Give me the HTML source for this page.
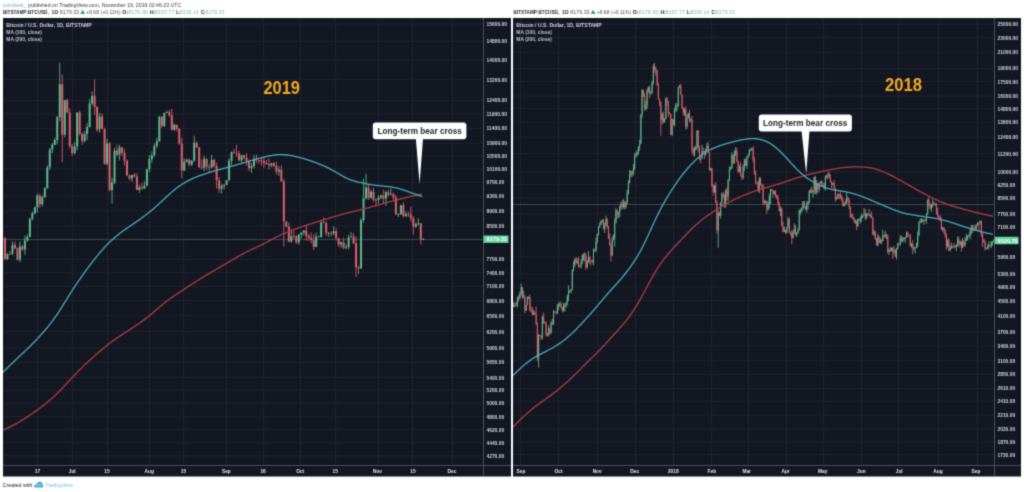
<!DOCTYPE html>
<html><head><meta charset="utf-8"><style>
html,body{margin:0;padding:0;background:#fff;width:1024px;height:492px;overflow:hidden;position:relative;font-family:"Liberation Sans",sans-serif}
</style></head><body>
<svg width="1024" height="492" viewBox="0 0 1024 492" style="display:block">
<defs><filter id="bl" x="0" y="0" width="1024" height="492" filterUnits="userSpaceOnUse"><feConvolveMatrix color-interpolation-filters="sRGB" order="3" kernelMatrix="1 4 1 4 16 4 1 4 1" divisor="36" edgeMode="duplicate"/></filter></defs>
<g filter="url(#bl)"><rect x="0" y="0" width="1024" height="492" fill="#fff"/>
<rect x="3" y="18" width="508" height="458.5" fill="#131722"/>
<clipPath id="c3"><rect x="3" y="18" width="480" height="447"/></clipPath>
<path d="M3 23.82H483M3 41.37H483M3 59.90H483M3 79.52H483M3 100.36H483M3 114.08H483M3 128.39H483M3 143.35H483M3 155.81H483M3 168.76H483M3 182.23H483M3 196.27H483M3 210.93H483M3 226.26H483M3 259.22H483M3 272.47H483M3 286.26H483M3 300.66H483M3 315.70H483M3 331.46H483M3 347.99H483M3 362.43H483M3 377.51H483M3 390.10H483M3 403.17H483M3 416.78H483M3 429.53H483M3 442.78H483M3 455.79H483M37.5 18V465M72.5 18V465M107.5 18V465M149.5 18V465M183.5 18V465M226.5 18V465M263.5 18V465M300.5 18V465M335.5 18V465M378.5 18V465M412.5 18V465M452.5 18V465" stroke="#1f2330" stroke-width="1" fill="none"/>
<path d="M3 239.5H483" stroke="#3b4852" stroke-width="1" fill="none"/>
<g clip-path="url(#c3)">
<path d="M7.46 253.21V259.86M12.44 241.37V255.25M19.91 241.51V262.31M24.89 235.45V254.80M27.38 234.37V241.89M29.87 217.86V237.16M32.36 211.70V220.71M34.85 206.50V214.45M37.34 193.58V212.62M42.32 195.39V206.41M44.81 187.20V197.56M47.30 165.42V188.98M49.79 148.15V170.20M52.28 143.17V153.17M54.77 137.55V145.46M57.26 115.90V144.47M59.75 62.77V121.16M64.73 99.85V137.29M74.69 142.09V154.28M77.18 112.02V150.31M84.65 131.17V142.57M87.14 123.09V140.21M89.63 99.12V127.65M92.12 91.44V105.21M99.59 113.13V132.57M107.06 138.75V165.51M112.04 177.80V203.52M114.53 147.73V184.07M119.51 144.92V160.34M131.96 174.70V181.90M139.43 184.73V192.84M144.41 181.33V188.92M146.90 168.81V186.34M149.39 154.81V172.35M151.88 151.45V162.83M154.37 143.42V157.11M156.86 137.84V148.36M159.35 115.72V141.64M164.33 112.41V126.95M166.82 110.52V112.94M174.29 123.53V130.86M184.25 158.51V171.11M186.74 158.64V162.58M191.72 159.92V166.03M194.21 135.64V161.84M204.17 155.77V171.26M211.64 154.90V168.57M221.60 183.71V193.34M224.09 184.12V189.36M226.58 179.83V185.22M229.07 158.35V180.70M231.56 151.66V165.37M241.52 154.88V162.63M251.48 163.13V172.71M253.97 154.90V168.44M271.40 163.04V167.32M278.87 166.36V175.94M291.32 229.35V242.76M298.79 234.45V244.68M301.28 232.24V238.49M303.77 230.30V235.61M316.22 232.74V247.01M321.20 220.79V237.81M328.67 232.16V237.16M333.65 226.34V235.16M341.12 241.71V248.08M346.10 244.22V249.30M348.59 234.65V249.30M351.08 231.93V237.70M361.04 217.88V269.13M363.53 178.81V222.68M366.02 173.75V199.67M371.00 189.76V198.84M378.47 194.99V203.87M380.96 194.52V199.09M385.94 190.88V205.96M390.92 188.52V195.13M398.39 213.33V217.03M400.88 205.07V214.79M405.86 211.47V216.64M415.82 222.45V228.06M418.31 218.24V225.59M423.29 238.33V240.03" stroke="#5fb88c" stroke-width="1" fill="none" opacity="0.85"/>
<path d="M4.97 237.15V260.45M9.95 251.11V254.62M14.93 241.59V249.14M17.42 247.21V260.29M22.40 244.96V251.03M39.83 193.89V207.79M62.24 74.50V162.22M67.22 98.68V112.62M69.71 108.07V148.39M72.20 143.89V156.04M79.67 110.54V135.69M82.16 132.49V144.79M94.61 79.52V114.63M97.10 105.92V131.84M102.08 113.18V129.10M104.57 127.89V164.96M109.55 141.95V191.64M117.02 144.71V156.77M122.00 146.89V155.76M124.49 148.77V165.70M126.98 159.18V175.88M129.47 174.46V180.40M134.45 173.08V177.65M136.94 173.30V190.07M141.92 182.99V189.85M161.84 116.30V127.85M169.31 109.95V116.85M171.80 109.17V130.72M176.78 124.78V131.70M179.27 127.91V144.66M181.76 138.03V178.17M189.23 158.55V166.44M196.70 141.20V147.86M199.19 146.89V167.70M201.68 159.42V169.20M206.66 158.58V169.69M209.15 164.26V172.01M214.13 158.94V167.84M216.62 162.71V188.50M219.11 177.10V193.20M234.05 148.80V153.72M236.54 144.70V156.90M239.03 150.71V161.31M244.01 154.61V159.61M246.50 153.14V165.69M248.99 159.28V171.17M256.46 154.29V163.11M258.95 160.28V163.79M261.44 158.06V165.51M263.93 158.04V167.72M266.42 160.05V164.67M268.91 158.27V169.76M273.89 162.13V167.33M276.38 161.63V174.52M281.36 165.42V181.78M283.85 179.01V246.47M286.34 221.24V227.18M288.83 222.57V242.38M293.81 230.66V238.88M296.30 235.47V244.01M306.26 226.04V240.68M308.75 233.80V240.69M311.24 232.46V243.51M313.73 234.40V250.20M318.71 235.84V237.19M323.69 217.22V223.04M326.18 221.32V236.37M331.16 231.10V236.60M336.14 228.23V240.43M338.63 238.02V246.95M343.61 237.55V249.52M353.57 232.98V244.33M356.06 236.23V277.00M358.55 265.45V274.18M368.51 185.06V200.11M373.49 187.77V201.68M375.98 198.35V206.23M383.45 189.64V203.93M388.43 189.51V196.85M393.41 192.45V200.18M395.90 194.75V214.81M403.37 202.14V217.41M408.35 211.58V216.93M410.84 206.49V221.64M413.33 216.29V234.49M420.80 223.05V244.40" stroke="#d9606b" stroke-width="1" fill="none" opacity="0.85"/>
<path d="M6.46 253.89h2.0V258.91h-2.0zM11.44 244.69h2.0V253.98h-2.0zM18.91 246.47h2.0V259.74h-2.0zM23.89 240.49h2.0V249.53h-2.0zM26.38 237.02h2.0V240.49h-2.0zM28.87 218.78h2.0V237.02h-2.0zM31.36 213.26h2.0V218.78h-2.0zM33.85 207.43h2.0V213.26h-2.0zM36.34 195.56h2.0V207.43h-2.0zM41.32 197.24h2.0V204.18h-2.0zM43.81 188.23h2.0V197.24h-2.0zM46.30 167.31h2.0V188.23h-2.0zM48.79 149.49h2.0V167.31h-2.0zM51.28 144.73h2.0V149.49h-2.0zM53.77 139.97h2.0V144.73h-2.0zM56.26 117.18h2.0V139.97h-2.0zM58.75 84.20h2.0V117.18h-2.0zM63.73 100.17h2.0V134.83h-2.0zM73.69 146.39h2.0V153.19h-2.0zM76.18 112.38h2.0V146.39h-2.0zM83.65 134.06h2.0V140.97h-2.0zM86.14 126.93h2.0V134.06h-2.0zM88.63 103.47h2.0V126.93h-2.0zM91.12 95.74h2.0V103.47h-2.0zM98.59 116.47h2.0V129.62h-2.0zM106.06 143.50h2.0V163.65h-2.0zM111.04 182.47h2.0V189.99h-2.0zM113.53 150.58h2.0V182.47h-2.0zM118.51 147.44h2.0V154.86h-2.0zM130.96 175.06h2.0V178.44h-2.0zM138.43 187.36h2.0V189.99h-2.0zM143.41 185.45h2.0V188.51h-2.0zM145.90 169.26h2.0V185.45h-2.0zM148.39 159.00h2.0V169.26h-2.0zM150.88 155.21h2.0V159.00h-2.0zM153.37 145.77h2.0V155.21h-2.0zM155.86 141.21h2.0V145.77h-2.0zM158.35 116.75h2.0V141.21h-2.0zM163.33 112.94h2.0V126.12h-2.0zM165.82 112.24h2.0V113.04h-2.0zM173.29 124.82h2.0V129.74h-2.0zM183.25 161.87h2.0V170.38h-2.0zM185.74 159.84h2.0V161.87h-2.0zM190.72 160.77h2.0V164.46h-2.0zM193.21 142.86h2.0V160.77h-2.0zM203.17 158.78h2.0V167.74h-2.0zM210.64 159.97h2.0V167.51h-2.0zM220.60 185.76h2.0V188.83h-2.0zM223.09 184.65h2.0V185.76h-2.0zM225.58 180.28h2.0V184.65h-2.0zM228.07 160.74h2.0V180.28h-2.0zM230.56 151.93h2.0V160.74h-2.0zM240.52 155.27h2.0V160.51h-2.0zM250.48 166.20h2.0V168.27h-2.0zM252.97 158.68h2.0V166.20h-2.0zM270.40 163.33h2.0V165.51h-2.0zM277.87 169.75h2.0V171.45h-2.0zM290.32 236.17h2.0V241.59h-2.0zM297.79 234.48h2.0V242.17h-2.0zM300.28 232.48h2.0V234.48h-2.0zM302.77 230.49h2.0V232.48h-2.0zM315.22 236.42h2.0V246.97h-2.0zM320.20 222.56h2.0V237.11h-2.0zM327.67 232.76h2.0V233.56h-2.0zM332.65 231.24h2.0V233.36h-2.0zM340.12 242.21h2.0V244.52h-2.0zM345.10 246.97h2.0V247.77h-2.0zM347.59 237.35h2.0V246.97h-2.0zM350.08 236.50h2.0V237.35h-2.0zM360.04 220.04h2.0V268.30h-2.0zM362.53 198.29h2.0V220.04h-2.0zM365.02 187.39h2.0V198.29h-2.0zM370.00 191.75h2.0V197.85h-2.0zM377.47 197.67h2.0V199.91h-2.0zM379.96 195.41h2.0V197.67h-2.0zM384.94 192.28h2.0V198.61h-2.0zM389.92 194.13h2.0V194.93h-2.0zM397.39 214.21h2.0V215.01h-2.0zM399.88 205.17h2.0V214.21h-2.0zM404.86 214.13h2.0V216.33h-2.0zM414.82 224.31h2.0V226.62h-2.0zM417.31 223.26h2.0V224.31h-2.0zM422.29 239.10h2.0V239.90h-2.0z" fill="#5fb88c"/>
<path d="M3.97 237.92h2.0V258.91h-2.0zM8.95 253.89h2.0V254.69h-2.0zM13.93 244.69h2.0V248.40h-2.0zM16.42 248.40h2.0V259.74h-2.0zM21.40 246.47h2.0V249.53h-2.0zM38.83 195.56h2.0V204.18h-2.0zM61.24 84.20h2.0V134.83h-2.0zM66.22 100.17h2.0V112.43h-2.0zM68.71 112.43h2.0V145.90h-2.0zM71.20 145.90h2.0V153.19h-2.0zM78.67 112.38h2.0V133.85h-2.0zM81.16 133.85h2.0V140.97h-2.0zM93.61 95.74h2.0V106.99h-2.0zM96.10 106.99h2.0V129.62h-2.0zM101.08 116.47h2.0V128.63h-2.0zM103.57 128.63h2.0V163.65h-2.0zM108.55 143.50h2.0V189.99h-2.0zM116.02 150.58h2.0V154.86h-2.0zM121.00 147.44h2.0V152.68h-2.0zM123.49 152.68h2.0V160.83h-2.0zM125.98 160.83h2.0V175.43h-2.0zM128.47 175.43h2.0V178.44h-2.0zM133.45 175.06h2.0V176.41h-2.0zM135.94 176.41h2.0V189.99h-2.0zM140.92 187.36h2.0V188.51h-2.0zM160.84 116.75h2.0V126.12h-2.0zM168.31 112.24h2.0V115.15h-2.0zM170.80 115.15h2.0V129.74h-2.0zM175.78 124.82h2.0V128.92h-2.0zM178.27 128.92h2.0V143.50h-2.0zM180.76 143.50h2.0V170.38h-2.0zM188.23 159.84h2.0V164.46h-2.0zM195.70 142.86h2.0V147.56h-2.0zM198.19 147.56h2.0V167.51h-2.0zM200.68 167.51h2.0V168.31h-2.0zM205.66 158.78h2.0V166.82h-2.0zM208.15 166.82h2.0V167.62h-2.0zM213.13 159.97h2.0V165.97h-2.0zM215.62 165.97h2.0V180.35h-2.0zM218.11 180.35h2.0V188.83h-2.0zM233.05 151.93h2.0V152.84h-2.0zM235.54 152.84h2.0V153.64h-2.0zM238.03 153.44h2.0V160.51h-2.0zM243.01 155.27h2.0V157.69h-2.0zM245.50 157.69h2.0V161.12h-2.0zM247.99 161.12h2.0V168.27h-2.0zM255.46 158.68h2.0V160.29h-2.0zM257.95 160.29h2.0V161.09h-2.0zM260.44 160.35h2.0V161.15h-2.0zM262.93 160.71h2.0V163.00h-2.0zM265.42 163.00h2.0V164.14h-2.0zM267.91 164.14h2.0V165.51h-2.0zM272.89 163.33h2.0V166.10h-2.0zM275.38 166.10h2.0V171.45h-2.0zM280.36 169.75h2.0V181.24h-2.0zM282.85 181.24h2.0V221.59h-2.0zM285.34 221.59h2.0V226.81h-2.0zM287.83 226.81h2.0V241.59h-2.0zM292.81 236.17h2.0V236.97h-2.0zM295.30 236.42h2.0V242.17h-2.0zM305.26 230.49h2.0V235.81h-2.0zM307.75 235.81h2.0V238.04h-2.0zM310.24 238.04h2.0V240.24h-2.0zM312.73 240.24h2.0V246.97h-2.0zM317.71 236.42h2.0V237.22h-2.0zM322.69 222.56h2.0V223.36h-2.0zM325.18 222.91h2.0V233.36h-2.0zM330.16 232.76h2.0V233.56h-2.0zM335.14 231.24h2.0V238.04h-2.0zM337.63 238.04h2.0V244.52h-2.0zM342.61 242.21h2.0V247.60h-2.0zM352.57 236.50h2.0V243.24h-2.0zM355.06 243.24h2.0V267.37h-2.0zM357.55 267.37h2.0V268.30h-2.0zM367.51 187.39h2.0V197.85h-2.0zM372.49 191.75h2.0V199.70h-2.0zM374.98 199.70h2.0V200.50h-2.0zM382.45 195.41h2.0V198.61h-2.0zM387.43 192.28h2.0V194.77h-2.0zM392.41 194.13h2.0V197.46h-2.0zM394.90 197.46h2.0V214.55h-2.0zM402.37 205.17h2.0V216.33h-2.0zM407.35 214.13h2.0V214.93h-2.0zM409.84 214.39h2.0V218.20h-2.0zM412.33 218.20h2.0V226.62h-2.0zM419.80 223.26h2.0V239.18h-2.0z" fill="#d9606b"/>
<path d="M3.0 430.19 L4.0 429.73 L5.0 429.27 L6.0 428.80 L7.0 428.34 L8.0 427.86 L9.0 427.39 L10.0 426.90 L11.0 426.41 L12.0 425.91 L13.0 425.40 L14.0 424.88 L15.0 424.35 L16.0 423.81 L17.0 423.26 L18.0 422.69 L19.0 422.11 L20.0 421.51 L21.0 420.91 L22.0 420.30 L23.0 419.67 L24.0 419.03 L25.0 418.39 L26.0 417.74 L27.0 417.08 L28.0 416.41 L29.0 415.74 L30.0 415.07 L31.0 414.38 L32.0 413.70 L33.0 413.00 L34.0 412.31 L35.0 411.61 L36.0 410.90 L37.0 410.19 L38.0 409.47 L39.0 408.74 L40.0 408.01 L41.0 407.27 L42.0 406.52 L43.0 405.76 L44.0 404.98 L45.0 404.20 L46.0 403.40 L47.0 402.59 L48.0 401.76 L49.0 400.92 L50.0 400.06 L51.0 399.18 L52.0 398.28 L53.0 397.37 L54.0 396.44 L55.0 395.49 L56.0 394.53 L57.0 393.55 L58.0 392.56 L59.0 391.56 L60.0 390.54 L61.0 389.52 L62.0 388.48 L63.0 387.43 L64.0 386.38 L65.0 385.32 L66.0 384.26 L67.0 383.19 L68.0 382.12 L69.0 381.05 L70.0 379.98 L71.0 378.91 L72.0 377.85 L73.0 376.79 L74.0 375.74 L75.0 374.69 L76.0 373.65 L77.0 372.62 L78.0 371.60 L79.0 370.58 L80.0 369.58 L81.0 368.58 L82.0 367.59 L83.0 366.61 L84.0 365.64 L85.0 364.68 L86.0 363.72 L87.0 362.78 L88.0 361.84 L89.0 360.91 L90.0 359.99 L91.0 359.07 L92.0 358.16 L93.0 357.26 L94.0 356.36 L95.0 355.48 L96.0 354.60 L97.0 353.72 L98.0 352.86 L99.0 352.00 L100.0 351.15 L101.0 350.30 L102.0 349.47 L103.0 348.64 L104.0 347.82 L105.0 347.01 L106.0 346.21 L107.0 345.41 L108.0 344.63 L109.0 343.86 L110.0 343.09 L111.0 342.34 L112.0 341.59 L113.0 340.86 L114.0 340.14 L115.0 339.43 L116.0 338.73 L117.0 338.04 L118.0 337.35 L119.0 336.68 L120.0 336.01 L121.0 335.35 L122.0 334.69 L123.0 334.04 L124.0 333.39 L125.0 332.74 L126.0 332.09 L127.0 331.44 L128.0 330.80 L129.0 330.15 L130.0 329.50 L131.0 328.85 L132.0 328.19 L133.0 327.53 L134.0 326.87 L135.0 326.20 L136.0 325.53 L137.0 324.86 L138.0 324.17 L139.0 323.48 L140.0 322.79 L141.0 322.08 L142.0 321.36 L143.0 320.63 L144.0 319.89 L145.0 319.14 L146.0 318.37 L147.0 317.58 L148.0 316.79 L149.0 315.98 L150.0 315.16 L151.0 314.32 L152.0 313.48 L153.0 312.63 L154.0 311.77 L155.0 310.91 L156.0 310.05 L157.0 309.18 L158.0 308.33 L159.0 307.47 L160.0 306.62 L161.0 305.79 L162.0 304.96 L163.0 304.15 L164.0 303.34 L165.0 302.55 L166.0 301.78 L167.0 301.02 L168.0 300.27 L169.0 299.53 L170.0 298.81 L171.0 298.09 L172.0 297.38 L173.0 296.69 L174.0 295.99 L175.0 295.31 L176.0 294.63 L177.0 293.95 L178.0 293.27 L179.0 292.60 L180.0 291.93 L181.0 291.26 L182.0 290.60 L183.0 289.93 L184.0 289.27 L185.0 288.61 L186.0 287.95 L187.0 287.29 L188.0 286.63 L189.0 285.97 L190.0 285.32 L191.0 284.67 L192.0 284.02 L193.0 283.37 L194.0 282.73 L195.0 282.09 L196.0 281.46 L197.0 280.82 L198.0 280.20 L199.0 279.58 L200.0 278.96 L201.0 278.34 L202.0 277.74 L203.0 277.13 L204.0 276.53 L205.0 275.93 L206.0 275.33 L207.0 274.74 L208.0 274.14 L209.0 273.55 L210.0 272.96 L211.0 272.38 L212.0 271.79 L213.0 271.20 L214.0 270.61 L215.0 270.03 L216.0 269.44 L217.0 268.85 L218.0 268.27 L219.0 267.68 L220.0 267.09 L221.0 266.50 L222.0 265.92 L223.0 265.33 L224.0 264.74 L225.0 264.16 L226.0 263.57 L227.0 262.98 L228.0 262.40 L229.0 261.81 L230.0 261.23 L231.0 260.64 L232.0 260.06 L233.0 259.48 L234.0 258.90 L235.0 258.32 L236.0 257.74 L237.0 257.17 L238.0 256.60 L239.0 256.03 L240.0 255.47 L241.0 254.91 L242.0 254.36 L243.0 253.81 L244.0 253.27 L245.0 252.74 L246.0 252.23 L247.0 251.72 L248.0 251.22 L249.0 250.73 L250.0 250.24 L251.0 249.77 L252.0 249.30 L253.0 248.84 L254.0 248.38 L255.0 247.93 L256.0 247.47 L257.0 247.01 L258.0 246.54 L259.0 246.07 L260.0 245.59 L261.0 245.10 L262.0 244.60 L263.0 244.09 L264.0 243.58 L265.0 243.05 L266.0 242.52 L267.0 241.99 L268.0 241.45 L269.0 240.91 L270.0 240.37 L271.0 239.83 L272.0 239.29 L273.0 238.77 L274.0 238.24 L275.0 237.73 L276.0 237.23 L277.0 236.74 L278.0 236.25 L279.0 235.78 L280.0 235.32 L281.0 234.87 L282.0 234.43 L283.0 233.99 L284.0 233.57 L285.0 233.15 L286.0 232.74 L287.0 232.34 L288.0 231.94 L289.0 231.54 L290.0 231.16 L291.0 230.77 L292.0 230.39 L293.0 230.01 L294.0 229.64 L295.0 229.27 L296.0 228.90 L297.0 228.54 L298.0 228.18 L299.0 227.82 L300.0 227.46 L301.0 227.11 L302.0 226.76 L303.0 226.42 L304.0 226.07 L305.0 225.73 L306.0 225.39 L307.0 225.06 L308.0 224.73 L309.0 224.40 L310.0 224.07 L311.0 223.75 L312.0 223.42 L313.0 223.11 L314.0 222.79 L315.0 222.48 L316.0 222.17 L317.0 221.86 L318.0 221.55 L319.0 221.24 L320.0 220.94 L321.0 220.63 L322.0 220.33 L323.0 220.03 L324.0 219.73 L325.0 219.42 L326.0 219.12 L327.0 218.82 L328.0 218.52 L329.0 218.22 L330.0 217.92 L331.0 217.62 L332.0 217.32 L333.0 217.02 L334.0 216.73 L335.0 216.43 L336.0 216.14 L337.0 215.85 L338.0 215.56 L339.0 215.27 L340.0 214.99 L341.0 214.70 L342.0 214.43 L343.0 214.15 L344.0 213.88 L345.0 213.61 L346.0 213.34 L347.0 213.08 L348.0 212.82 L349.0 212.56 L350.0 212.30 L351.0 212.04 L352.0 211.79 L353.0 211.54 L354.0 211.29 L355.0 211.04 L356.0 210.79 L357.0 210.53 L358.0 210.28 L359.0 210.03 L360.0 209.78 L361.0 209.53 L362.0 209.28 L363.0 209.03 L364.0 208.78 L365.0 208.52 L366.0 208.27 L367.0 208.01 L368.0 207.76 L369.0 207.50 L370.0 207.24 L371.0 206.98 L372.0 206.71 L373.0 206.45 L374.0 206.18 L375.0 205.91 L376.0 205.64 L377.0 205.36 L378.0 205.09 L379.0 204.81 L380.0 204.53 L381.0 204.25 L382.0 203.96 L383.0 203.68 L384.0 203.39 L385.0 203.11 L386.0 202.82 L387.0 202.54 L388.0 202.25 L389.0 201.97 L390.0 201.69 L391.0 201.41 L392.0 201.14 L393.0 200.86 L394.0 200.59 L395.0 200.32 L396.0 200.06 L397.0 199.79 L398.0 199.53 L399.0 199.27 L400.0 199.02 L401.0 198.76 L402.0 198.51 L403.0 198.26 L404.0 198.02 L405.0 197.78 L406.0 197.54 L407.0 197.30 L408.0 197.07 L409.0 196.84 L410.0 196.62 L411.0 196.39 L412.0 196.18 L413.0 195.96 L414.0 195.75 L415.0 195.53 L416.0 195.33 L417.0 195.12 L418.0 194.91 L419.0 194.71 L420.0 194.51 L421.0 194.31 L422.0 194.10" stroke="#b23a45" stroke-width="1.3" fill="none"/>
<path d="M3.0 372.20 L4.0 371.22 L5.0 370.24 L6.0 369.26 L7.0 368.28 L8.0 367.30 L9.0 366.32 L10.0 365.35 L11.0 364.37 L12.0 363.41 L13.0 362.44 L14.0 361.48 L15.0 360.52 L16.0 359.57 L17.0 358.62 L18.0 357.68 L19.0 356.73 L20.0 355.79 L21.0 354.85 L22.0 353.92 L23.0 352.98 L24.0 352.04 L25.0 351.10 L26.0 350.15 L27.0 349.20 L28.0 348.24 L29.0 347.28 L30.0 346.30 L31.0 345.31 L32.0 344.32 L33.0 343.31 L34.0 342.29 L35.0 341.26 L36.0 340.21 L37.0 339.16 L38.0 338.09 L39.0 337.00 L40.0 335.91 L41.0 334.80 L42.0 333.67 L43.0 332.54 L44.0 331.39 L45.0 330.22 L46.0 329.04 L47.0 327.84 L48.0 326.62 L49.0 325.38 L50.0 324.12 L51.0 322.83 L52.0 321.52 L53.0 320.18 L54.0 318.81 L55.0 317.41 L56.0 315.98 L57.0 314.52 L58.0 313.03 L59.0 311.51 L60.0 309.97 L61.0 308.40 L62.0 306.81 L63.0 305.21 L64.0 303.59 L65.0 301.97 L66.0 300.35 L67.0 298.72 L68.0 297.11 L69.0 295.50 L70.0 293.91 L71.0 292.33 L72.0 290.77 L73.0 289.22 L74.0 287.69 L75.0 286.18 L76.0 284.69 L77.0 283.21 L78.0 281.75 L79.0 280.30 L80.0 278.87 L81.0 277.44 L82.0 276.03 L83.0 274.62 L84.0 273.23 L85.0 271.84 L86.0 270.46 L87.0 269.09 L88.0 267.73 L89.0 266.37 L90.0 265.03 L91.0 263.71 L92.0 262.39 L93.0 261.09 L94.0 259.81 L95.0 258.54 L96.0 257.29 L97.0 256.06 L98.0 254.85 L99.0 253.65 L100.0 252.48 L101.0 251.33 L102.0 250.19 L103.0 249.08 L104.0 247.98 L105.0 246.90 L106.0 245.85 L107.0 244.81 L108.0 243.80 L109.0 242.81 L110.0 241.83 L111.0 240.88 L112.0 239.96 L113.0 239.05 L114.0 238.17 L115.0 237.31 L116.0 236.47 L117.0 235.65 L118.0 234.84 L119.0 234.05 L120.0 233.28 L121.0 232.53 L122.0 231.78 L123.0 231.05 L124.0 230.32 L125.0 229.61 L126.0 228.90 L127.0 228.20 L128.0 227.50 L129.0 226.81 L130.0 226.12 L131.0 225.44 L132.0 224.75 L133.0 224.07 L134.0 223.38 L135.0 222.70 L136.0 222.01 L137.0 221.32 L138.0 220.62 L139.0 219.92 L140.0 219.22 L141.0 218.51 L142.0 217.79 L143.0 217.06 L144.0 216.32 L145.0 215.57 L146.0 214.81 L147.0 214.04 L148.0 213.26 L149.0 212.46 L150.0 211.65 L151.0 210.82 L152.0 209.98 L153.0 209.13 L154.0 208.27 L155.0 207.39 L156.0 206.51 L157.0 205.61 L158.0 204.70 L159.0 203.79 L160.0 202.87 L161.0 201.94 L162.0 201.01 L163.0 200.07 L164.0 199.13 L165.0 198.20 L166.0 197.27 L167.0 196.34 L168.0 195.42 L169.0 194.51 L170.0 193.62 L171.0 192.74 L172.0 191.87 L173.0 191.02 L174.0 190.20 L175.0 189.39 L176.0 188.60 L177.0 187.83 L178.0 187.09 L179.0 186.37 L180.0 185.67 L181.0 184.99 L182.0 184.33 L183.0 183.69 L184.0 183.08 L185.0 182.48 L186.0 181.91 L187.0 181.35 L188.0 180.82 L189.0 180.30 L190.0 179.80 L191.0 179.31 L192.0 178.84 L193.0 178.39 L194.0 177.95 L195.0 177.52 L196.0 177.11 L197.0 176.71 L198.0 176.32 L199.0 175.94 L200.0 175.57 L201.0 175.21 L202.0 174.85 L203.0 174.51 L204.0 174.17 L205.0 173.84 L206.0 173.52 L207.0 173.20 L208.0 172.89 L209.0 172.59 L210.0 172.28 L211.0 171.99 L212.0 171.69 L213.0 171.40 L214.0 171.11 L215.0 170.83 L216.0 170.55 L217.0 170.26 L218.0 169.99 L219.0 169.71 L220.0 169.43 L221.0 169.16 L222.0 168.88 L223.0 168.60 L224.0 168.33 L225.0 168.06 L226.0 167.78 L227.0 167.51 L228.0 167.23 L229.0 166.95 L230.0 166.68 L231.0 166.40 L232.0 166.13 L233.0 165.85 L234.0 165.57 L235.0 165.29 L236.0 165.01 L237.0 164.73 L238.0 164.45 L239.0 164.17 L240.0 163.89 L241.0 163.60 L242.0 163.32 L243.0 163.03 L244.0 162.74 L245.0 162.45 L246.0 162.16 L247.0 161.86 L248.0 161.56 L249.0 161.27 L250.0 160.97 L251.0 160.67 L252.0 160.36 L253.0 160.06 L254.0 159.76 L255.0 159.47 L256.0 159.17 L257.0 158.88 L258.0 158.60 L259.0 158.32 L260.0 158.05 L261.0 157.78 L262.0 157.52 L263.0 157.27 L264.0 157.03 L265.0 156.79 L266.0 156.57 L267.0 156.35 L268.0 156.15 L269.0 155.95 L270.0 155.76 L271.0 155.59 L272.0 155.43 L273.0 155.27 L274.0 155.14 L275.0 155.02 L276.0 154.91 L277.0 154.82 L278.0 154.76 L279.0 154.71 L280.0 154.68 L281.0 154.67 L282.0 154.68 L283.0 154.70 L284.0 154.75 L285.0 154.82 L286.0 154.90 L287.0 155.00 L288.0 155.12 L289.0 155.25 L290.0 155.40 L291.0 155.56 L292.0 155.73 L293.0 155.92 L294.0 156.12 L295.0 156.34 L296.0 156.56 L297.0 156.80 L298.0 157.05 L299.0 157.31 L300.0 157.57 L301.0 157.85 L302.0 158.13 L303.0 158.42 L304.0 158.71 L305.0 159.02 L306.0 159.32 L307.0 159.64 L308.0 159.96 L309.0 160.29 L310.0 160.62 L311.0 160.96 L312.0 161.30 L313.0 161.66 L314.0 162.02 L315.0 162.38 L316.0 162.75 L317.0 163.13 L318.0 163.52 L319.0 163.91 L320.0 164.31 L321.0 164.71 L322.0 165.13 L323.0 165.56 L324.0 165.99 L325.0 166.44 L326.0 166.90 L327.0 167.37 L328.0 167.85 L329.0 168.35 L330.0 168.87 L331.0 169.40 L332.0 169.94 L333.0 170.49 L334.0 171.06 L335.0 171.64 L336.0 172.22 L337.0 172.81 L338.0 173.40 L339.0 173.99 L340.0 174.58 L341.0 175.16 L342.0 175.73 L343.0 176.28 L344.0 176.82 L345.0 177.34 L346.0 177.84 L347.0 178.31 L348.0 178.76 L349.0 179.19 L350.0 179.58 L351.0 179.96 L352.0 180.31 L353.0 180.64 L354.0 180.95 L355.0 181.24 L356.0 181.51 L357.0 181.77 L358.0 182.02 L359.0 182.26 L360.0 182.48 L361.0 182.70 L362.0 182.92 L363.0 183.13 L364.0 183.33 L365.0 183.53 L366.0 183.73 L367.0 183.92 L368.0 184.10 L369.0 184.28 L370.0 184.46 L371.0 184.63 L372.0 184.79 L373.0 184.94 L374.0 185.09 L375.0 185.23 L376.0 185.36 L377.0 185.48 L378.0 185.60 L379.0 185.71 L380.0 185.81 L381.0 185.91 L382.0 186.00 L383.0 186.10 L384.0 186.19 L385.0 186.28 L386.0 186.38 L387.0 186.49 L388.0 186.60 L389.0 186.72 L390.0 186.85 L391.0 187.00 L392.0 187.16 L393.0 187.33 L394.0 187.52 L395.0 187.72 L396.0 187.94 L397.0 188.17 L398.0 188.42 L399.0 188.69 L400.0 188.97 L401.0 189.26 L402.0 189.56 L403.0 189.88 L404.0 190.20 L405.0 190.54 L406.0 190.88 L407.0 191.23 L408.0 191.59 L409.0 191.94 L410.0 192.30 L411.0 192.67 L412.0 193.03 L413.0 193.40 L414.0 193.76 L415.0 194.12 L416.0 194.48 L417.0 194.83 L418.0 195.18 L419.0 195.53 L420.0 195.88 L421.0 196.22 L422.0 196.56" stroke="#45adbd" stroke-width="1.3" fill="none"/>
</g>
<path d="M483.5 18V476M3 465.5H511" stroke="#474c5c" stroke-width="1" fill="none"/>
<text x="486.5" y="25.8" font-family="'Liberation Sans', sans-serif" font-size="5.7" font-weight="bold" fill="#d2d4da" textLength="20.5" lengthAdjust="spacingAndGlyphs">15600.00</text>
<text x="486.5" y="43.4" font-family="'Liberation Sans', sans-serif" font-size="5.7" font-weight="bold" fill="#d2d4da" textLength="20.5" lengthAdjust="spacingAndGlyphs">14800.00</text>
<text x="486.5" y="61.9" font-family="'Liberation Sans', sans-serif" font-size="5.7" font-weight="bold" fill="#d2d4da" textLength="20.5" lengthAdjust="spacingAndGlyphs">14000.00</text>
<text x="486.5" y="81.5" font-family="'Liberation Sans', sans-serif" font-size="5.7" font-weight="bold" fill="#d2d4da" textLength="20.5" lengthAdjust="spacingAndGlyphs">13200.00</text>
<text x="486.5" y="102.4" font-family="'Liberation Sans', sans-serif" font-size="5.7" font-weight="bold" fill="#d2d4da" textLength="20.5" lengthAdjust="spacingAndGlyphs">12400.00</text>
<text x="486.5" y="116.1" font-family="'Liberation Sans', sans-serif" font-size="5.7" font-weight="bold" fill="#d2d4da" textLength="20.5" lengthAdjust="spacingAndGlyphs">11900.00</text>
<text x="486.5" y="130.4" font-family="'Liberation Sans', sans-serif" font-size="5.7" font-weight="bold" fill="#d2d4da" textLength="20.5" lengthAdjust="spacingAndGlyphs">11400.00</text>
<text x="486.5" y="145.3" font-family="'Liberation Sans', sans-serif" font-size="5.7" font-weight="bold" fill="#d2d4da" textLength="20.5" lengthAdjust="spacingAndGlyphs">10900.00</text>
<text x="486.5" y="157.8" font-family="'Liberation Sans', sans-serif" font-size="5.7" font-weight="bold" fill="#d2d4da" textLength="20.5" lengthAdjust="spacingAndGlyphs">10500.00</text>
<text x="486.5" y="170.8" font-family="'Liberation Sans', sans-serif" font-size="5.7" font-weight="bold" fill="#d2d4da" textLength="20.5" lengthAdjust="spacingAndGlyphs">10100.00</text>
<text x="486.5" y="184.2" font-family="'Liberation Sans', sans-serif" font-size="5.7" font-weight="bold" fill="#d2d4da" textLength="17.6" lengthAdjust="spacingAndGlyphs">9700.00</text>
<text x="486.5" y="198.3" font-family="'Liberation Sans', sans-serif" font-size="5.7" font-weight="bold" fill="#d2d4da" textLength="17.6" lengthAdjust="spacingAndGlyphs">9300.00</text>
<text x="486.5" y="212.9" font-family="'Liberation Sans', sans-serif" font-size="5.7" font-weight="bold" fill="#d2d4da" textLength="17.6" lengthAdjust="spacingAndGlyphs">8900.00</text>
<text x="486.5" y="228.3" font-family="'Liberation Sans', sans-serif" font-size="5.7" font-weight="bold" fill="#d2d4da" textLength="17.6" lengthAdjust="spacingAndGlyphs">8500.00</text>
<text x="486.5" y="261.2" font-family="'Liberation Sans', sans-serif" font-size="5.7" font-weight="bold" fill="#d2d4da" textLength="17.6" lengthAdjust="spacingAndGlyphs">7700.00</text>
<text x="486.5" y="274.5" font-family="'Liberation Sans', sans-serif" font-size="5.7" font-weight="bold" fill="#d2d4da" textLength="17.6" lengthAdjust="spacingAndGlyphs">7400.00</text>
<text x="486.5" y="288.3" font-family="'Liberation Sans', sans-serif" font-size="5.7" font-weight="bold" fill="#d2d4da" textLength="17.6" lengthAdjust="spacingAndGlyphs">7100.00</text>
<text x="486.5" y="302.7" font-family="'Liberation Sans', sans-serif" font-size="5.7" font-weight="bold" fill="#d2d4da" textLength="17.6" lengthAdjust="spacingAndGlyphs">6800.00</text>
<text x="486.5" y="317.7" font-family="'Liberation Sans', sans-serif" font-size="5.7" font-weight="bold" fill="#d2d4da" textLength="17.6" lengthAdjust="spacingAndGlyphs">6500.00</text>
<text x="486.5" y="333.5" font-family="'Liberation Sans', sans-serif" font-size="5.7" font-weight="bold" fill="#d2d4da" textLength="17.6" lengthAdjust="spacingAndGlyphs">6200.00</text>
<text x="486.5" y="350.0" font-family="'Liberation Sans', sans-serif" font-size="5.7" font-weight="bold" fill="#d2d4da" textLength="17.6" lengthAdjust="spacingAndGlyphs">5900.00</text>
<text x="486.5" y="364.4" font-family="'Liberation Sans', sans-serif" font-size="5.7" font-weight="bold" fill="#d2d4da" textLength="17.6" lengthAdjust="spacingAndGlyphs">5650.00</text>
<text x="486.5" y="379.5" font-family="'Liberation Sans', sans-serif" font-size="5.7" font-weight="bold" fill="#d2d4da" textLength="17.6" lengthAdjust="spacingAndGlyphs">5400.00</text>
<text x="486.5" y="392.1" font-family="'Liberation Sans', sans-serif" font-size="5.7" font-weight="bold" fill="#d2d4da" textLength="17.6" lengthAdjust="spacingAndGlyphs">5200.00</text>
<text x="486.5" y="405.2" font-family="'Liberation Sans', sans-serif" font-size="5.7" font-weight="bold" fill="#d2d4da" textLength="17.6" lengthAdjust="spacingAndGlyphs">5000.00</text>
<text x="486.5" y="418.8" font-family="'Liberation Sans', sans-serif" font-size="5.7" font-weight="bold" fill="#d2d4da" textLength="17.6" lengthAdjust="spacingAndGlyphs">4800.00</text>
<text x="486.5" y="431.5" font-family="'Liberation Sans', sans-serif" font-size="5.7" font-weight="bold" fill="#d2d4da" textLength="17.6" lengthAdjust="spacingAndGlyphs">4620.00</text>
<text x="486.5" y="444.8" font-family="'Liberation Sans', sans-serif" font-size="5.7" font-weight="bold" fill="#d2d4da" textLength="17.6" lengthAdjust="spacingAndGlyphs">4440.00</text>
<text x="486.5" y="457.8" font-family="'Liberation Sans', sans-serif" font-size="5.7" font-weight="bold" fill="#d2d4da" textLength="17.6" lengthAdjust="spacingAndGlyphs">4270.00</text>
<rect x="483.5" y="235.5" width="25" height="7.4" fill="#66d49f"/>
<text x="486.5" y="241.2" font-family="'Liberation Sans', sans-serif" font-size="5.7" font-weight="bold" fill="#f0fff4" textLength="20.5" lengthAdjust="spacingAndGlyphs">8179.33</text>
<text x="34.82" y="473.2" font-family="'Liberation Sans', sans-serif" font-size="5.6" font-weight="bold" fill="#e4e6ec" textLength="5.36" lengthAdjust="spacingAndGlyphs">17</text>
<text x="68.72" y="473.2" font-family="'Liberation Sans', sans-serif" font-size="5.6" font-weight="bold" fill="#e4e6ec" textLength="6.96" lengthAdjust="spacingAndGlyphs">Jul</text>
<text x="104.32" y="473.2" font-family="'Liberation Sans', sans-serif" font-size="5.6" font-weight="bold" fill="#e4e6ec" textLength="5.36" lengthAdjust="spacingAndGlyphs">15</text>
<text x="144.52" y="473.2" font-family="'Liberation Sans', sans-serif" font-size="5.6" font-weight="bold" fill="#e4e6ec" textLength="9.36" lengthAdjust="spacingAndGlyphs">Aug</text>
<text x="180.72" y="473.2" font-family="'Liberation Sans', sans-serif" font-size="5.6" font-weight="bold" fill="#e4e6ec" textLength="5.36" lengthAdjust="spacingAndGlyphs">15</text>
<text x="221.98" y="473.2" font-family="'Liberation Sans', sans-serif" font-size="5.6" font-weight="bold" fill="#e4e6ec" textLength="8.83" lengthAdjust="spacingAndGlyphs">Sep</text>
<text x="260.42" y="473.2" font-family="'Liberation Sans', sans-serif" font-size="5.6" font-weight="bold" fill="#e4e6ec" textLength="5.36" lengthAdjust="spacingAndGlyphs">16</text>
<text x="296.19" y="473.2" font-family="'Liberation Sans', sans-serif" font-size="5.6" font-weight="bold" fill="#e4e6ec" textLength="8.03" lengthAdjust="spacingAndGlyphs">Oct</text>
<text x="332.52" y="473.2" font-family="'Liberation Sans', sans-serif" font-size="5.6" font-weight="bold" fill="#e4e6ec" textLength="5.36" lengthAdjust="spacingAndGlyphs">15</text>
<text x="372.95" y="473.2" font-family="'Liberation Sans', sans-serif" font-size="5.6" font-weight="bold" fill="#e4e6ec" textLength="9.10" lengthAdjust="spacingAndGlyphs">Nov</text>
<text x="410.32" y="473.2" font-family="'Liberation Sans', sans-serif" font-size="5.6" font-weight="bold" fill="#e4e6ec" textLength="5.36" lengthAdjust="spacingAndGlyphs">15</text>
<text x="447.58" y="473.2" font-family="'Liberation Sans', sans-serif" font-size="5.6" font-weight="bold" fill="#e4e6ec" textLength="8.83" lengthAdjust="spacingAndGlyphs">Dec</text>
<text x="6.3" y="27.4" font-family="'Liberation Sans', sans-serif" font-size="5.6" fill="#d0d2d8" font-weight="bold" textLength="85.5" lengthAdjust="spacingAndGlyphs">Bitcoin / U.S. Dollar, 1D, BITSTAMP</text>
<text x="6.3" y="34.3" font-family="'Liberation Sans', sans-serif" font-size="5.6" font-weight="bold" fill="#c4c6cc" textLength="35.7" lengthAdjust="spacingAndGlyphs">MA (100, close)</text>
<text x="6.3" y="41.1" font-family="'Liberation Sans', sans-serif" font-size="5.6" font-weight="bold" fill="#c4c6cc" textLength="35.7" lengthAdjust="spacingAndGlyphs">MA (200, close)</text>
<rect x="513" y="18" width="508" height="458.5" fill="#131722"/>
<clipPath id="c513"><rect x="513" y="18" width="481" height="447"/></clipPath>
<path d="M513 24.19H994M513 37.63H994M513 52.30H994M513 68.43H994M513 81.69H994M513 96.13H994M513 108.70H994M513 122.33H994M513 137.22H994M513 153.63H994M513 171.90H994M513 184.46H994M513 198.09H994M513 214.03H994M513 227.11H994M513 256.95H994M513 274.24H994M513 286.89H994M513 300.62H994M513 315.62H994M513 332.17H994M513 345.80H994M513 360.69H994M513 374.24H994M513 388.43H994M513 401.28H994M513 415.24H994M513 428.94H994M513 442.17H994M513 454.72H994M520.5 18V465M558.5 18V465M597.5 18V465M635.5 18V465M673.5 18V465M711.5 18V465M748.5 18V465M786.5 18V465M823.5 18V465M861.5 18V465M898.5 18V465M938.5 18V465M977.5 18V465" stroke="#1f2330" stroke-width="1" fill="none"/>
<path d="M513 204.5H994" stroke="#3b4852" stroke-width="1" fill="none"/>
<g clip-path="url(#c513)">
<path d="M514.93 302.51V307.44M516.18 301.72V305.06M517.42 296.62V307.58M519.92 291.77V299.45M521.17 283.48V295.86M523.66 290.83V298.51M526.15 304.89V310.75M527.40 296.31V305.27M528.65 296.45V298.83M533.64 309.72V314.76M538.62 334.24V367.60M542.37 315.65V339.37M548.60 325.18V336.76M551.09 320.77V334.09M553.59 310.06V325.21M557.33 304.09V314.09M558.58 302.71V310.22M559.82 301.56V306.70M563.56 302.67V311.38M564.81 303.64V311.71M566.06 302.23V307.67M567.30 294.62V305.59M568.55 285.38V301.07M569.80 290.42V292.98M571.05 289.03V293.00M572.29 269.59V290.25M573.54 261.34V271.58M574.79 258.70V267.33M577.28 258.32V263.81M581.02 258.92V268.62M582.27 254.69V264.20M583.52 253.54V260.53M587.26 260.11V268.04M588.50 250.93V262.60M593.49 248.45V265.26M595.99 237.79V252.52M597.23 233.38V243.43M598.48 226.19V235.66M599.73 222.78V227.80M600.97 220.09V224.96M602.22 219.25V222.98M604.71 222.85V232.81M605.96 215.68V226.54M612.20 236.51V256.05M613.44 234.18V240.32M614.69 218.45V246.67M615.94 207.80V223.69M618.43 211.85V217.66M619.68 205.71V217.41M620.93 201.71V210.12M623.42 199.18V208.58M625.91 201.18V208.79M627.16 189.84V204.50M628.41 180.08V194.36M629.65 169.96V183.28M630.90 170.64V177.25M633.40 163.94V175.41M634.64 153.45V170.22M635.89 152.26V157.51M637.14 150.14V155.66M638.38 146.28V154.58M639.63 139.60V150.81M640.88 114.33V144.00M642.12 89.05V117.83M645.87 100.77V110.53M647.11 88.54V108.67M648.36 86.50V92.65M650.85 90.91V94.77M652.10 80.79V93.70M653.35 64.06V84.76M662.08 112.40V124.27M664.57 118.27V122.61M665.82 97.67V119.32M672.05 118.54V136.21M674.55 107.99V126.64M675.79 103.07V112.38M677.04 103.33V111.27M678.29 86.67V106.95M679.53 84.87V87.55M684.52 108.29V115.91M687.02 114.56V129.21M688.26 112.71V118.46M690.76 117.94V122.25M694.50 146.63V156.80M695.75 145.36V150.66M696.99 129.91V149.21M701.98 144.88V159.29M705.72 148.83V155.82M706.97 143.16V151.51M710.71 168.05V171.02M714.45 184.92V193.02M718.19 210.27V247.66M720.69 202.09V218.63M721.93 192.71V206.44M725.67 189.32V207.50M728.17 179.05V200.87M729.41 166.38V180.85M730.66 166.74V169.96M731.91 152.14V168.82M734.40 150.43V163.81M735.65 147.25V155.83M739.39 164.71V172.42M743.13 164.31V179.26M744.38 158.54V170.93M746.87 156.05V168.78M748.12 154.15V157.83M749.37 149.43V155.79M750.61 148.60V151.16M751.86 147.53V151.18M759.34 177.08V193.07M764.33 199.97V205.21M765.58 200.11V203.32M768.07 201.72V210.78M769.32 193.49V208.54M770.57 188.73V204.36M771.81 189.16V191.29M774.31 191.00V194.92M780.54 206.62V216.19M784.28 226.38V231.99M786.78 226.97V233.44M788.02 216.49V228.42M793.01 230.49V238.48M794.26 223.45V233.73M796.75 232.01V237.20M798.00 227.60V233.51M799.25 209.80V230.36M800.49 208.59V214.63M801.74 207.04V212.43M802.99 201.21V210.63M806.73 201.24V212.58M807.98 200.71V209.29M809.22 190.00V203.85M810.47 188.47V193.37M812.96 189.84V197.87M814.21 176.71V194.37M816.70 180.01V194.72M819.20 182.53V191.59M820.45 181.39V183.68M824.19 182.56V189.37M825.43 175.44V190.61M827.93 172.52V179.48M832.92 182.65V184.81M836.66 196.51V199.71M837.90 193.14V198.80M844.14 202.56V206.88M846.63 192.58V204.53M851.62 214.05V217.90M855.36 219.40V224.00M857.86 218.74V226.70M860.35 216.17V223.71M861.60 213.46V221.72M862.84 215.22V218.17M864.09 207.91V215.64M866.59 212.97V219.15M867.83 213.24V215.74M869.08 208.96V215.85M874.07 229.69V236.28M877.81 233.73V246.39M880.30 237.93V243.68M882.80 229.77V241.45M884.04 234.63V237.42M885.29 230.82V238.19M889.03 248.71V254.92M890.28 246.81V251.82M891.52 247.65V251.24M894.02 245.85V254.29M896.51 248.15V259.41M897.76 242.94V249.28M900.25 235.43V246.10M902.75 237.01V242.61M904.00 237.38V241.09M905.24 236.95V242.61M906.49 231.63V237.65M911.48 243.14V247.81M913.97 246.56V250.97M915.22 246.86V253.48M916.46 242.80V248.01M917.71 231.45V247.72M918.96 221.28V235.92M920.21 218.55V223.26M921.45 218.20V222.97M923.95 219.21V224.92M926.44 213.20V223.76M927.69 199.27V215.10M931.43 203.76V211.92M932.68 199.10V207.39M933.92 201.31V205.37M942.65 226.78V231.61M947.64 239.19V247.57M950.13 245.14V251.28M951.38 242.70V248.86M955.12 245.13V247.65M956.37 244.43V251.24M957.62 236.36V246.60M960.11 240.59V245.63M962.60 237.93V248.19M965.10 237.22V246.33M966.35 233.82V240.84M967.59 235.26V240.57M970.09 229.28V239.40M971.33 224.64V234.44M975.07 224.82V230.47M976.32 224.19V230.96M977.57 222.06V225.66M980.06 220.23V224.55M986.30 247.72V249.81M987.54 244.53V249.00M988.79 241.10V249.68M991.28 241.01V248.01M992.53 241.11V245.56M993.78 239.42V242.43" stroke="#5fb88c" stroke-width="1" fill="none" opacity="0.85"/>
<path d="M513.68 302.37V307.11M518.67 294.86V301.46M522.41 286.91V298.47M524.91 295.05V313.18M529.89 294.48V311.17M531.14 306.40V312.45M532.39 307.35V315.17M534.88 311.37V314.96M536.13 306.66V324.55M537.38 322.41V361.09M539.87 334.71V336.37M541.12 335.22V339.85M543.61 312.54V323.92M544.86 321.04V323.48M546.11 321.19V336.62M547.35 332.76V335.55M549.85 327.87V334.85M552.34 318.69V324.89M554.83 310.71V312.82M556.08 311.87V314.58M561.07 302.04V308.97M562.32 306.83V312.47M576.03 257.02V265.03M578.53 256.72V267.71M579.77 264.93V267.45M584.76 251.98V261.82M586.01 253.72V269.74M589.75 256.57V264.07M591.00 260.07V265.58M592.24 259.37V262.93M594.74 248.61V251.52M603.47 219.13V229.45M607.21 218.00V229.15M608.46 225.72V238.94M609.70 233.25V245.52M610.95 243.05V261.61M617.18 210.06V219.12M622.17 199.96V209.32M624.67 200.80V209.51M632.15 170.66V176.92M643.37 89.76V97.04M644.62 92.71V110.69M649.61 85.47V98.25M654.59 62.88V72.49M655.84 67.01V75.98M657.09 69.89V85.93M658.34 82.64V99.78M659.58 98.62V105.80M660.83 101.37V135.93M663.32 111.62V122.63M667.06 97.35V105.36M668.31 100.75V117.16M669.56 111.82V114.40M670.81 113.72V134.79M673.30 118.92V125.30M680.78 83.65V94.81M682.03 94.29V109.10M683.28 107.30V115.34M685.77 106.22V129.23M689.51 110.07V121.90M692.00 116.06V153.32M693.25 147.28V156.01M698.24 130.08V152.43M699.49 145.57V160.56M700.73 156.36V163.61M703.23 147.25V153.77M704.47 150.53V158.91M708.22 141.52V153.54M709.46 151.67V170.24M711.96 167.91V187.29M713.20 183.71V195.66M715.70 181.98V202.78M716.94 200.41V233.58M719.44 211.93V216.01M723.18 191.80V198.08M724.43 194.11V207.89M726.92 187.31V200.60M733.16 154.45V163.60M736.90 148.16V162.23M738.14 160.82V172.65M740.64 161.92V176.41M741.88 174.61V180.15M745.63 158.54V165.93M753.11 146.29V162.48M754.36 156.74V174.88M755.60 170.40V183.98M756.85 181.95V184.57M758.10 180.43V191.79M760.59 177.45V185.51M761.84 184.28V188.75M763.08 183.54V204.80M766.82 200.94V214.03M773.06 189.88V197.76M775.55 189.82V197.15M776.80 194.63V199.41M778.05 195.21V205.83M779.29 202.11V211.45M781.79 207.63V225.87M783.04 221.62V232.07M785.53 229.67V233.89M789.27 217.99V233.38M790.52 232.16V235.31M791.76 229.90V244.33M795.51 224.91V235.75M804.23 200.88V208.08M805.48 206.28V209.89M811.72 186.48V192.94M815.46 175.88V193.96M817.95 182.53V193.04M821.69 180.07V186.93M822.94 182.39V186.91M826.68 174.99V178.71M829.17 171.87V178.05M830.42 174.13V182.34M831.67 181.10V188.70M834.16 180.22V190.76M835.41 188.01V201.68M839.15 193.89V199.39M840.40 191.33V198.80M841.64 194.87V201.26M842.89 197.21V206.09M845.39 199.60V205.33M847.88 196.39V201.98M849.13 198.29V209.53M850.37 206.40V217.59M852.87 213.23V219.25M854.12 217.39V222.91M856.61 220.33V230.11M859.10 218.83V221.02M865.34 208.97V220.33M870.33 214.03V218.33M871.57 211.27V218.20M872.82 216.66V235.12M875.31 231.34V240.08M876.56 238.10V245.35M879.05 235.25V242.95M881.55 239.58V244.32M886.54 233.91V239.10M887.78 234.54V253.52M892.77 247.64V258.66M895.27 249.25V257.08M899.01 242.83V244.46M901.50 235.30V241.69M907.74 231.50V237.89M908.98 234.51V237.14M910.23 233.82V246.49M912.72 239.90V254.33M922.70 218.85V222.37M925.19 218.24V221.06M928.93 197.12V207.30M930.18 203.44V209.76M935.17 202.84V206.22M936.42 203.26V214.60M937.66 207.72V217.67M938.91 215.58V219.14M940.16 215.32V221.42M941.40 217.81V230.12M943.90 226.96V233.44M945.15 228.93V237.87M946.39 233.38V249.92M948.89 237.76V250.82M952.63 245.80V247.85M953.88 242.99V248.39M958.86 236.84V247.34M961.36 240.90V251.73M963.85 240.24V246.97M968.84 233.82V237.46M972.58 224.74V232.96M973.83 225.22V230.81M978.82 222.84V231.10M981.31 220.55V236.71M982.56 232.59V246.92M983.80 238.70V242.92M985.05 239.56V250.63M990.04 244.48V246.72" stroke="#d9606b" stroke-width="1" fill="none" opacity="0.85"/>
<path d="M514.43 304.90h1.0V306.19h-1.0zM515.68 304.90h1.0V305.70h-1.0zM516.92 297.77h1.0V304.90h-1.0zM519.42 293.47h1.0V298.30h-1.0zM520.67 287.15h1.0V293.47h-1.0zM523.16 296.93h1.0V297.81h-1.0zM525.65 305.12h1.0V310.40h-1.0zM526.90 297.14h1.0V305.12h-1.0zM528.15 297.11h1.0V297.91h-1.0zM533.14 313.24h1.0V314.76h-1.0zM538.12 334.94h1.0V357.86h-1.0zM541.87 317.00h1.0V337.39h-1.0zM548.10 328.21h1.0V335.25h-1.0zM550.59 322.61h1.0V332.96h-1.0zM553.09 311.39h1.0V323.97h-1.0zM556.83 306.53h1.0V313.12h-1.0zM558.08 304.13h1.0V306.53h-1.0zM559.32 303.91h1.0V304.71h-1.0zM563.06 306.90h1.0V310.59h-1.0zM564.31 305.30h1.0V306.90h-1.0zM565.56 302.82h1.0V305.30h-1.0zM566.80 296.72h1.0V302.82h-1.0zM568.05 291.15h1.0V296.72h-1.0zM569.30 290.85h1.0V291.65h-1.0zM570.55 289.34h1.0V290.85h-1.0zM571.79 269.86h1.0V289.34h-1.0zM573.04 264.02h1.0V269.86h-1.0zM574.29 258.85h1.0V264.02h-1.0zM576.78 260.99h1.0V263.10h-1.0zM580.52 262.62h1.0V266.17h-1.0zM581.77 254.70h1.0V262.62h-1.0zM583.02 253.92h1.0V254.72h-1.0zM586.76 261.10h1.0V267.51h-1.0zM588.00 256.84h1.0V261.10h-1.0zM592.99 250.18h1.0V261.78h-1.0zM595.49 242.13h1.0V250.79h-1.0zM596.73 234.85h1.0V242.13h-1.0zM597.98 227.61h1.0V234.85h-1.0zM599.23 224.67h1.0V227.61h-1.0zM600.47 220.89h1.0V224.67h-1.0zM601.72 220.28h1.0V221.08h-1.0zM604.21 226.11h1.0V228.89h-1.0zM605.46 219.15h1.0V226.11h-1.0zM611.70 239.88h1.0V255.59h-1.0zM612.94 238.02h1.0V239.88h-1.0zM614.19 222.30h1.0V238.02h-1.0zM615.44 210.49h1.0V222.30h-1.0zM617.93 212.15h1.0V213.86h-1.0zM619.18 207.14h1.0V212.15h-1.0zM620.43 203.89h1.0V207.14h-1.0zM622.92 202.85h1.0V206.44h-1.0zM625.41 202.85h1.0V207.10h-1.0zM626.66 192.69h1.0V202.85h-1.0zM627.91 183.08h1.0V192.69h-1.0zM629.15 174.86h1.0V183.08h-1.0zM630.40 170.96h1.0V174.86h-1.0zM632.90 168.18h1.0V173.71h-1.0zM634.14 156.90h1.0V168.18h-1.0zM635.39 155.45h1.0V156.90h-1.0zM636.64 151.87h1.0V155.45h-1.0zM637.88 147.18h1.0V151.87h-1.0zM639.13 143.64h1.0V147.18h-1.0zM640.38 114.34h1.0V143.64h-1.0zM641.62 90.20h1.0V114.34h-1.0zM645.37 105.46h1.0V108.70h-1.0zM646.61 90.20h1.0V105.46h-1.0zM647.86 87.31h1.0V90.20h-1.0zM650.35 92.64h1.0V93.44h-1.0zM651.60 82.61h1.0V92.64h-1.0zM652.85 65.90h1.0V82.61h-1.0zM661.58 114.24h1.0V119.98h-1.0zM664.07 118.81h1.0V122.33h-1.0zM665.32 98.16h1.0V118.81h-1.0zM671.55 119.39h1.0V134.64h-1.0zM674.05 109.79h1.0V124.72h-1.0zM675.29 105.46h1.0V109.79h-1.0zM676.54 105.46h1.0V106.26h-1.0zM677.79 87.31h1.0V105.46h-1.0zM679.03 86.36h1.0V87.31h-1.0zM684.02 109.24h1.0V113.12h-1.0zM686.52 117.89h1.0V126.53h-1.0zM687.76 113.56h1.0V117.89h-1.0zM690.26 119.75h1.0V120.55h-1.0zM694.00 149.73h1.0V153.80h-1.0zM695.25 147.87h1.0V149.73h-1.0zM696.49 130.86h1.0V147.87h-1.0zM701.48 151.36h1.0V158.48h-1.0zM705.22 150.21h1.0V154.05h-1.0zM706.47 145.41h1.0V150.21h-1.0zM710.21 168.37h1.0V170.20h-1.0zM713.95 185.79h1.0V191.95h-1.0zM717.69 212.90h1.0V230.43h-1.0zM720.19 202.61h1.0V215.69h-1.0zM721.43 193.68h1.0V202.61h-1.0zM725.17 190.21h1.0V205.29h-1.0zM727.67 180.27h1.0V196.25h-1.0zM728.91 169.24h1.0V180.27h-1.0zM730.16 168.18h1.0V169.24h-1.0zM731.41 154.90h1.0V168.18h-1.0zM733.90 153.27h1.0V163.25h-1.0zM735.15 150.73h1.0V153.27h-1.0zM738.89 167.12h1.0V171.82h-1.0zM742.63 166.10h1.0V177.41h-1.0zM743.88 160.61h1.0V166.10h-1.0zM746.37 157.25h1.0V165.62h-1.0zM747.62 155.28h1.0V157.25h-1.0zM748.87 149.52h1.0V155.28h-1.0zM750.11 149.20h1.0V150.00h-1.0zM751.36 148.35h1.0V149.20h-1.0zM758.84 178.85h1.0V191.30h-1.0zM763.83 201.93h1.0V202.73h-1.0zM765.08 201.20h1.0V202.00h-1.0zM767.57 203.43h1.0V209.57h-1.0zM768.82 195.65h1.0V203.43h-1.0zM770.07 190.45h1.0V195.65h-1.0zM771.31 190.14h1.0V190.94h-1.0zM773.81 191.06h1.0V193.83h-1.0zM780.04 208.80h1.0V211.27h-1.0zM783.78 230.02h1.0V231.92h-1.0zM786.28 227.49h1.0V233.03h-1.0zM787.52 219.22h1.0V227.49h-1.0zM792.51 231.45h1.0V238.00h-1.0zM793.76 228.86h1.0V231.45h-1.0zM796.25 233.26h1.0V234.78h-1.0zM797.50 230.13h1.0V233.26h-1.0zM798.75 210.12h1.0V230.13h-1.0zM799.99 210.00h1.0V210.80h-1.0zM801.24 208.15h1.0V210.00h-1.0zM802.49 201.37h1.0V208.15h-1.0zM806.23 204.62h1.0V209.85h-1.0zM807.48 202.05h1.0V204.62h-1.0zM808.72 191.68h1.0V202.05h-1.0zM809.97 190.77h1.0V191.68h-1.0zM812.46 190.12h1.0V192.47h-1.0zM813.71 176.86h1.0V190.12h-1.0zM816.20 183.92h1.0V191.68h-1.0zM818.70 182.76h1.0V189.11h-1.0zM819.95 181.54h1.0V182.76h-1.0zM823.69 184.73h1.0V186.76h-1.0zM824.93 176.09h1.0V184.73h-1.0zM827.43 174.20h1.0V176.81h-1.0zM832.42 183.16h1.0V184.74h-1.0zM836.16 198.02h1.0V199.22h-1.0zM837.40 193.92h1.0V198.02h-1.0zM843.64 202.91h1.0V205.98h-1.0zM846.13 197.85h1.0V202.97h-1.0zM851.12 216.41h1.0V217.21h-1.0zM854.86 221.13h1.0V221.93h-1.0zM857.36 218.85h1.0V226.31h-1.0zM859.85 218.40h1.0V220.30h-1.0zM861.10 217.39h1.0V218.40h-1.0zM862.34 215.23h1.0V217.39h-1.0zM863.59 213.61h1.0V215.23h-1.0zM866.09 215.44h1.0V217.97h-1.0zM867.33 215.02h1.0V215.82h-1.0zM868.58 214.49h1.0V215.29h-1.0zM873.57 231.57h1.0V234.40h-1.0zM877.31 237.06h1.0V245.13h-1.0zM879.80 240.10h1.0V242.43h-1.0zM882.30 235.64h1.0V241.36h-1.0zM883.54 234.80h1.0V235.64h-1.0zM884.79 234.63h1.0V235.43h-1.0zM888.53 249.95h1.0V252.03h-1.0zM889.78 249.66h1.0V250.46h-1.0zM891.02 247.69h1.0V249.66h-1.0zM893.52 250.08h1.0V251.76h-1.0zM896.01 248.49h1.0V256.87h-1.0zM897.26 243.74h1.0V248.49h-1.0zM899.75 238.51h1.0V244.22h-1.0zM902.25 238.93h1.0V240.62h-1.0zM903.50 237.93h1.0V238.93h-1.0zM904.74 237.10h1.0V237.93h-1.0zM905.99 232.72h1.0V237.10h-1.0zM910.98 243.99h1.0V245.64h-1.0zM913.47 247.94h1.0V248.74h-1.0zM914.72 246.99h1.0V247.94h-1.0zM915.96 244.87h1.0V246.99h-1.0zM917.21 235.45h1.0V244.87h-1.0zM918.46 222.16h1.0V235.45h-1.0zM919.71 221.09h1.0V222.16h-1.0zM920.95 219.00h1.0V221.09h-1.0zM923.45 220.02h1.0V221.42h-1.0zM925.94 213.78h1.0V220.04h-1.0zM927.19 199.54h1.0V213.78h-1.0zM930.93 204.56h1.0V208.86h-1.0zM932.18 204.02h1.0V204.82h-1.0zM933.42 203.51h1.0V204.31h-1.0zM942.15 227.83h1.0V228.66h-1.0zM947.14 240.62h1.0V246.22h-1.0zM949.63 248.13h1.0V250.42h-1.0zM950.88 246.09h1.0V248.13h-1.0zM954.62 245.99h1.0V247.15h-1.0zM955.87 244.85h1.0V245.99h-1.0zM957.12 239.29h1.0V244.85h-1.0zM959.61 241.66h1.0V244.17h-1.0zM962.10 241.96h1.0V247.63h-1.0zM964.60 240.72h1.0V245.61h-1.0zM965.85 236.79h1.0V240.72h-1.0zM967.09 235.95h1.0V236.79h-1.0zM969.59 230.92h1.0V236.19h-1.0zM970.83 227.26h1.0V230.92h-1.0zM974.57 228.54h1.0V229.90h-1.0zM975.82 225.01h1.0V228.54h-1.0zM977.07 223.25h1.0V225.01h-1.0zM979.56 221.26h1.0V223.51h-1.0zM985.80 247.97h1.0V248.77h-1.0zM987.04 246.99h1.0V247.97h-1.0zM988.29 245.61h1.0V246.99h-1.0zM990.78 241.69h1.0V246.45h-1.0zM992.03 241.46h1.0V242.26h-1.0zM993.28 240.84h1.0V241.64h-1.0z" fill="#5fb88c"/>
<path d="M513.18 305.30h1.0V306.19h-1.0zM518.17 297.77h1.0V298.57h-1.0zM521.91 287.15h1.0V297.81h-1.0zM524.41 296.93h1.0V310.40h-1.0zM529.39 297.11h1.0V310.67h-1.0zM530.64 310.67h1.0V311.47h-1.0zM531.89 310.74h1.0V314.76h-1.0zM534.38 313.24h1.0V314.45h-1.0zM535.63 314.45h1.0V324.43h-1.0zM536.88 324.43h1.0V357.86h-1.0zM539.37 334.94h1.0V335.74h-1.0zM540.62 335.47h1.0V337.39h-1.0zM543.11 317.00h1.0V322.69h-1.0zM544.36 322.69h1.0V323.49h-1.0zM545.61 323.48h1.0V335.16h-1.0zM546.85 335.16h1.0V335.96h-1.0zM549.35 328.21h1.0V332.96h-1.0zM551.84 322.61h1.0V323.97h-1.0zM554.33 311.39h1.0V312.31h-1.0zM555.58 312.31h1.0V313.12h-1.0zM560.57 303.91h1.0V307.27h-1.0zM561.82 307.27h1.0V310.59h-1.0zM575.53 258.85h1.0V263.10h-1.0zM578.03 260.99h1.0V265.51h-1.0zM579.27 265.51h1.0V266.31h-1.0zM584.26 253.92h1.0V256.13h-1.0zM585.51 256.13h1.0V267.51h-1.0zM589.25 256.84h1.0V260.26h-1.0zM590.50 260.26h1.0V261.06h-1.0zM591.74 261.02h1.0V261.82h-1.0zM594.24 250.18h1.0V250.98h-1.0zM602.97 220.28h1.0V228.89h-1.0zM606.71 219.15h1.0V226.13h-1.0zM607.96 226.13h1.0V238.44h-1.0zM609.20 238.44h1.0V244.92h-1.0zM610.45 244.92h1.0V255.59h-1.0zM616.68 210.49h1.0V213.86h-1.0zM621.67 203.89h1.0V206.44h-1.0zM624.17 202.85h1.0V207.10h-1.0zM631.65 170.96h1.0V173.71h-1.0zM642.87 90.20h1.0V95.63h-1.0zM644.12 95.63h1.0V108.70h-1.0zM649.11 87.31h1.0V93.14h-1.0zM654.09 65.90h1.0V68.43h-1.0zM655.34 68.43h1.0V70.14h-1.0zM656.59 70.14h1.0V84.47h-1.0zM657.84 84.47h1.0V99.18h-1.0zM659.08 99.18h1.0V103.34h-1.0zM660.33 103.34h1.0V119.98h-1.0zM662.82 114.24h1.0V122.33h-1.0zM666.56 98.16h1.0V102.29h-1.0zM667.81 102.29h1.0V113.12h-1.0zM669.06 113.12h1.0V114.24h-1.0zM670.31 114.24h1.0V134.64h-1.0zM672.80 119.39h1.0V124.72h-1.0zM680.28 86.36h1.0V94.63h-1.0zM681.53 94.63h1.0V107.61h-1.0zM682.78 107.61h1.0V113.12h-1.0zM685.27 109.24h1.0V126.53h-1.0zM689.01 113.56h1.0V120.30h-1.0zM691.50 119.75h1.0V149.51h-1.0zM692.75 149.51h1.0V153.80h-1.0zM697.74 130.86h1.0V147.97h-1.0zM698.99 147.97h1.0V157.55h-1.0zM700.23 157.55h1.0V158.48h-1.0zM702.73 151.36h1.0V152.78h-1.0zM703.97 152.78h1.0V154.05h-1.0zM707.72 145.41h1.0V152.25h-1.0zM708.96 152.25h1.0V170.20h-1.0zM711.46 168.37h1.0V185.86h-1.0zM712.70 185.86h1.0V191.95h-1.0zM715.20 185.79h1.0V202.38h-1.0zM716.44 202.38h1.0V230.43h-1.0zM718.94 212.90h1.0V215.69h-1.0zM722.68 193.68h1.0V195.82h-1.0zM723.93 195.82h1.0V205.29h-1.0zM726.42 190.21h1.0V196.25h-1.0zM732.66 154.90h1.0V163.25h-1.0zM736.40 150.73h1.0V161.14h-1.0zM737.64 161.14h1.0V171.82h-1.0zM740.14 167.12h1.0V174.94h-1.0zM741.38 174.94h1.0V177.41h-1.0zM745.13 160.61h1.0V165.62h-1.0zM752.61 148.35h1.0V159.80h-1.0zM753.86 159.80h1.0V172.46h-1.0zM755.10 172.46h1.0V181.96h-1.0zM756.35 181.96h1.0V182.95h-1.0zM757.60 182.95h1.0V191.30h-1.0zM760.09 178.85h1.0V185.25h-1.0zM761.34 185.25h1.0V186.05h-1.0zM762.58 185.44h1.0V202.52h-1.0zM766.32 201.20h1.0V209.57h-1.0zM772.56 190.14h1.0V193.83h-1.0zM775.05 191.06h1.0V194.94h-1.0zM776.30 194.94h1.0V198.19h-1.0zM777.55 198.19h1.0V203.71h-1.0zM778.79 203.71h1.0V211.27h-1.0zM781.29 208.80h1.0V225.64h-1.0zM782.54 225.64h1.0V231.92h-1.0zM785.03 230.02h1.0V233.03h-1.0zM788.77 219.22h1.0V232.81h-1.0zM790.02 232.81h1.0V233.80h-1.0zM791.26 233.80h1.0V238.00h-1.0zM795.01 228.86h1.0V234.78h-1.0zM803.73 201.37h1.0V206.70h-1.0zM804.98 206.70h1.0V209.85h-1.0zM811.22 190.77h1.0V192.47h-1.0zM814.96 176.86h1.0V191.68h-1.0zM817.45 183.92h1.0V189.11h-1.0zM821.19 181.54h1.0V184.64h-1.0zM822.44 184.64h1.0V186.76h-1.0zM826.18 176.09h1.0V176.89h-1.0zM828.67 174.20h1.0V177.56h-1.0zM829.92 177.56h1.0V182.33h-1.0zM831.17 182.33h1.0V184.74h-1.0zM833.66 183.16h1.0V188.11h-1.0zM834.91 188.11h1.0V199.22h-1.0zM838.65 193.92h1.0V194.72h-1.0zM839.90 194.05h1.0V197.90h-1.0zM841.14 197.90h1.0V200.62h-1.0zM842.39 200.62h1.0V205.98h-1.0zM844.89 202.91h1.0V203.71h-1.0zM847.38 197.85h1.0V199.66h-1.0zM848.63 199.66h1.0V207.04h-1.0zM849.87 207.04h1.0V217.05h-1.0zM852.37 216.41h1.0V218.70h-1.0zM853.62 218.70h1.0V221.42h-1.0zM856.11 221.13h1.0V226.31h-1.0zM858.60 218.85h1.0V220.30h-1.0zM864.84 213.61h1.0V217.97h-1.0zM869.83 214.49h1.0V215.63h-1.0zM871.07 215.63h1.0V217.61h-1.0zM872.32 217.61h1.0V234.40h-1.0zM874.81 231.57h1.0V239.32h-1.0zM876.06 239.32h1.0V245.13h-1.0zM878.55 237.06h1.0V242.43h-1.0zM881.05 240.10h1.0V241.36h-1.0zM886.04 234.63h1.0V235.76h-1.0zM887.28 235.76h1.0V252.03h-1.0zM892.27 247.69h1.0V251.76h-1.0zM894.77 250.08h1.0V256.87h-1.0zM898.51 243.74h1.0V244.54h-1.0zM901.00 238.51h1.0V240.62h-1.0zM907.24 232.72h1.0V234.71h-1.0zM908.48 234.71h1.0V235.51h-1.0zM909.73 235.47h1.0V245.64h-1.0zM912.22 243.99h1.0V248.23h-1.0zM922.20 219.00h1.0V221.42h-1.0zM924.69 220.02h1.0V220.82h-1.0zM928.43 199.54h1.0V204.24h-1.0zM929.68 204.24h1.0V208.86h-1.0zM934.67 203.51h1.0V204.31h-1.0zM935.92 204.26h1.0V212.36h-1.0zM937.16 212.36h1.0V215.61h-1.0zM938.41 215.61h1.0V216.84h-1.0zM939.66 216.84h1.0V219.70h-1.0zM940.90 219.70h1.0V228.66h-1.0zM943.40 227.83h1.0V230.52h-1.0zM944.65 230.52h1.0V235.18h-1.0zM945.89 235.18h1.0V246.22h-1.0zM948.39 240.62h1.0V250.42h-1.0zM952.13 246.09h1.0V247.02h-1.0zM953.38 247.02h1.0V247.82h-1.0zM958.36 239.29h1.0V244.17h-1.0zM960.86 241.66h1.0V247.63h-1.0zM963.35 241.96h1.0V245.61h-1.0zM968.34 235.95h1.0V236.75h-1.0zM972.08 227.26h1.0V228.52h-1.0zM973.33 228.52h1.0V229.90h-1.0zM978.32 223.25h1.0V224.05h-1.0zM980.81 221.26h1.0V234.25h-1.0zM982.06 234.25h1.0V240.62h-1.0zM983.30 240.62h1.0V242.16h-1.0zM984.55 242.16h1.0V248.31h-1.0zM989.54 245.61h1.0V246.45h-1.0z" fill="#d9606b"/>
<path d="M513.0 427.03 L514.0 426.00 L515.0 424.97 L516.0 423.95 L517.0 422.94 L518.0 421.93 L519.0 420.93 L520.0 419.94 L521.0 418.96 L522.0 418.00 L523.0 417.04 L524.0 416.10 L525.0 415.18 L526.0 414.27 L527.0 413.38 L528.0 412.51 L529.0 411.65 L530.0 410.80 L531.0 409.98 L532.0 409.17 L533.0 408.37 L534.0 407.58 L535.0 406.81 L536.0 406.05 L537.0 405.30 L538.0 404.56 L539.0 403.82 L540.0 403.09 L541.0 402.37 L542.0 401.65 L543.0 400.94 L544.0 400.22 L545.0 399.51 L546.0 398.79 L547.0 398.07 L548.0 397.34 L549.0 396.61 L550.0 395.87 L551.0 395.12 L552.0 394.37 L553.0 393.61 L554.0 392.83 L555.0 392.05 L556.0 391.26 L557.0 390.46 L558.0 389.66 L559.0 388.84 L560.0 388.01 L561.0 387.18 L562.0 386.33 L563.0 385.48 L564.0 384.62 L565.0 383.75 L566.0 382.87 L567.0 381.98 L568.0 381.08 L569.0 380.17 L570.0 379.26 L571.0 378.33 L572.0 377.40 L573.0 376.46 L574.0 375.50 L575.0 374.54 L576.0 373.57 L577.0 372.59 L578.0 371.61 L579.0 370.61 L580.0 369.61 L581.0 368.61 L582.0 367.60 L583.0 366.59 L584.0 365.58 L585.0 364.57 L586.0 363.56 L587.0 362.56 L588.0 361.56 L589.0 360.56 L590.0 359.58 L591.0 358.59 L592.0 357.61 L593.0 356.63 L594.0 355.65 L595.0 354.67 L596.0 353.68 L597.0 352.69 L598.0 351.69 L599.0 350.68 L600.0 349.66 L601.0 348.63 L602.0 347.58 L603.0 346.53 L604.0 345.47 L605.0 344.40 L606.0 343.32 L607.0 342.23 L608.0 341.14 L609.0 340.05 L610.0 338.95 L611.0 337.85 L612.0 336.75 L613.0 335.65 L614.0 334.54 L615.0 333.44 L616.0 332.34 L617.0 331.23 L618.0 330.12 L619.0 329.01 L620.0 327.89 L621.0 326.75 L622.0 325.60 L623.0 324.44 L624.0 323.25 L625.0 322.04 L626.0 320.80 L627.0 319.53 L628.0 318.22 L629.0 316.89 L630.0 315.51 L631.0 314.09 L632.0 312.64 L633.0 311.15 L634.0 309.62 L635.0 308.05 L636.0 306.44 L637.0 304.80 L638.0 303.13 L639.0 301.42 L640.0 299.68 L641.0 297.91 L642.0 296.12 L643.0 294.30 L644.0 292.47 L645.0 290.62 L646.0 288.76 L647.0 286.90 L648.0 285.04 L649.0 283.18 L650.0 281.33 L651.0 279.51 L652.0 277.70 L653.0 275.93 L654.0 274.19 L655.0 272.49 L656.0 270.83 L657.0 269.21 L658.0 267.64 L659.0 266.12 L660.0 264.64 L661.0 263.20 L662.0 261.81 L663.0 260.45 L664.0 259.14 L665.0 257.85 L666.0 256.60 L667.0 255.37 L668.0 254.17 L669.0 252.99 L670.0 251.83 L671.0 250.69 L672.0 249.57 L673.0 248.46 L674.0 247.36 L675.0 246.28 L676.0 245.20 L677.0 244.13 L678.0 243.07 L679.0 242.01 L680.0 240.95 L681.0 239.90 L682.0 238.85 L683.0 237.80 L684.0 236.75 L685.0 235.70 L686.0 234.65 L687.0 233.61 L688.0 232.57 L689.0 231.55 L690.0 230.53 L691.0 229.52 L692.0 228.53 L693.0 227.56 L694.0 226.61 L695.0 225.68 L696.0 224.78 L697.0 223.89 L698.0 223.03 L699.0 222.19 L700.0 221.37 L701.0 220.57 L702.0 219.79 L703.0 219.02 L704.0 218.27 L705.0 217.53 L706.0 216.80 L707.0 216.09 L708.0 215.38 L709.0 214.68 L710.0 213.99 L711.0 213.31 L712.0 212.64 L713.0 211.97 L714.0 211.31 L715.0 210.66 L716.0 210.02 L717.0 209.38 L718.0 208.75 L719.0 208.13 L720.0 207.51 L721.0 206.90 L722.0 206.30 L723.0 205.70 L724.0 205.11 L725.0 204.53 L726.0 203.96 L727.0 203.39 L728.0 202.83 L729.0 202.28 L730.0 201.74 L731.0 201.22 L732.0 200.70 L733.0 200.19 L734.0 199.69 L735.0 199.20 L736.0 198.73 L737.0 198.26 L738.0 197.80 L739.0 197.35 L740.0 196.91 L741.0 196.47 L742.0 196.05 L743.0 195.63 L744.0 195.22 L745.0 194.81 L746.0 194.41 L747.0 194.02 L748.0 193.64 L749.0 193.26 L750.0 192.89 L751.0 192.53 L752.0 192.17 L753.0 191.82 L754.0 191.48 L755.0 191.14 L756.0 190.81 L757.0 190.49 L758.0 190.17 L759.0 189.85 L760.0 189.54 L761.0 189.23 L762.0 188.92 L763.0 188.62 L764.0 188.31 L765.0 188.01 L766.0 187.70 L767.0 187.40 L768.0 187.10 L769.0 186.80 L770.0 186.50 L771.0 186.20 L772.0 185.90 L773.0 185.59 L774.0 185.29 L775.0 184.99 L776.0 184.69 L777.0 184.38 L778.0 184.08 L779.0 183.77 L780.0 183.46 L781.0 183.15 L782.0 182.83 L783.0 182.51 L784.0 182.19 L785.0 181.87 L786.0 181.55 L787.0 181.22 L788.0 180.89 L789.0 180.55 L790.0 180.22 L791.0 179.88 L792.0 179.54 L793.0 179.21 L794.0 178.87 L795.0 178.54 L796.0 178.21 L797.0 177.89 L798.0 177.57 L799.0 177.26 L800.0 176.95 L801.0 176.65 L802.0 176.36 L803.0 176.07 L804.0 175.79 L805.0 175.52 L806.0 175.25 L807.0 174.99 L808.0 174.73 L809.0 174.47 L810.0 174.22 L811.0 173.98 L812.0 173.73 L813.0 173.49 L814.0 173.25 L815.0 173.02 L816.0 172.79 L817.0 172.56 L818.0 172.33 L819.0 172.10 L820.0 171.88 L821.0 171.66 L822.0 171.44 L823.0 171.22 L824.0 171.01 L825.0 170.80 L826.0 170.59 L827.0 170.39 L828.0 170.18 L829.0 169.98 L830.0 169.79 L831.0 169.59 L832.0 169.40 L833.0 169.22 L834.0 169.04 L835.0 168.86 L836.0 168.69 L837.0 168.53 L838.0 168.37 L839.0 168.23 L840.0 168.09 L841.0 167.96 L842.0 167.83 L843.0 167.72 L844.0 167.61 L845.0 167.51 L846.0 167.42 L847.0 167.33 L848.0 167.26 L849.0 167.19 L850.0 167.12 L851.0 167.06 L852.0 167.01 L853.0 166.97 L854.0 166.93 L855.0 166.90 L856.0 166.88 L857.0 166.87 L858.0 166.87 L859.0 166.88 L860.0 166.90 L861.0 166.93 L862.0 166.97 L863.0 167.03 L864.0 167.10 L865.0 167.19 L866.0 167.28 L867.0 167.40 L868.0 167.52 L869.0 167.66 L870.0 167.82 L871.0 168.00 L872.0 168.19 L873.0 168.40 L874.0 168.63 L875.0 168.89 L876.0 169.16 L877.0 169.46 L878.0 169.77 L879.0 170.11 L880.0 170.47 L881.0 170.85 L882.0 171.25 L883.0 171.66 L884.0 172.09 L885.0 172.53 L886.0 172.99 L887.0 173.46 L888.0 173.93 L889.0 174.42 L890.0 174.91 L891.0 175.41 L892.0 175.91 L893.0 176.42 L894.0 176.94 L895.0 177.46 L896.0 177.99 L897.0 178.52 L898.0 179.06 L899.0 179.60 L900.0 180.15 L901.0 180.70 L902.0 181.26 L903.0 181.82 L904.0 182.38 L905.0 182.95 L906.0 183.52 L907.0 184.09 L908.0 184.67 L909.0 185.24 L910.0 185.82 L911.0 186.39 L912.0 186.97 L913.0 187.54 L914.0 188.11 L915.0 188.68 L916.0 189.25 L917.0 189.81 L918.0 190.38 L919.0 190.93 L920.0 191.49 L921.0 192.04 L922.0 192.58 L923.0 193.12 L924.0 193.65 L925.0 194.18 L926.0 194.71 L927.0 195.23 L928.0 195.75 L929.0 196.26 L930.0 196.77 L931.0 197.27 L932.0 197.77 L933.0 198.26 L934.0 198.74 L935.0 199.22 L936.0 199.69 L937.0 200.15 L938.0 200.61 L939.0 201.05 L940.0 201.49 L941.0 201.91 L942.0 202.32 L943.0 202.72 L944.0 203.11 L945.0 203.48 L946.0 203.85 L947.0 204.20 L948.0 204.55 L949.0 204.89 L950.0 205.22 L951.0 205.54 L952.0 205.85 L953.0 206.17 L954.0 206.47 L955.0 206.78 L956.0 207.07 L957.0 207.37 L958.0 207.66 L959.0 207.95 L960.0 208.24 L961.0 208.52 L962.0 208.80 L963.0 209.07 L964.0 209.35 L965.0 209.62 L966.0 209.88 L967.0 210.15 L968.0 210.41 L969.0 210.67 L970.0 210.93 L971.0 211.18 L972.0 211.44 L973.0 211.69 L974.0 211.93 L975.0 212.18 L976.0 212.43 L977.0 212.67 L978.0 212.91 L979.0 213.15 L980.0 213.39 L981.0 213.62 L982.0 213.86 L983.0 214.09 L984.0 214.32 L985.0 214.56 L986.0 214.79 L987.0 215.01 L988.0 215.24 L989.0 215.47 L990.0 215.70 L991.0 215.92 L992.0 216.15 L993.0 216.38" stroke="#b23a45" stroke-width="1.3" fill="none"/>
<path d="M513.0 375.61 L514.0 374.59 L515.0 373.57 L516.0 372.57 L517.0 371.58 L518.0 370.61 L519.0 369.65 L520.0 368.70 L521.0 367.78 L522.0 366.87 L523.0 365.99 L524.0 365.13 L525.0 364.29 L526.0 363.47 L527.0 362.68 L528.0 361.91 L529.0 361.16 L530.0 360.44 L531.0 359.75 L532.0 359.07 L533.0 358.42 L534.0 357.78 L535.0 357.17 L536.0 356.58 L537.0 356.00 L538.0 355.44 L539.0 354.90 L540.0 354.37 L541.0 353.85 L542.0 353.34 L543.0 352.83 L544.0 352.33 L545.0 351.83 L546.0 351.33 L547.0 350.82 L548.0 350.31 L549.0 349.79 L550.0 349.26 L551.0 348.71 L552.0 348.16 L553.0 347.59 L554.0 347.00 L555.0 346.40 L556.0 345.79 L557.0 345.15 L558.0 344.50 L559.0 343.84 L560.0 343.16 L561.0 342.45 L562.0 341.73 L563.0 340.99 L564.0 340.23 L565.0 339.45 L566.0 338.65 L567.0 337.83 L568.0 336.98 L569.0 336.11 L570.0 335.22 L571.0 334.31 L572.0 333.37 L573.0 332.42 L574.0 331.44 L575.0 330.45 L576.0 329.44 L577.0 328.42 L578.0 327.38 L579.0 326.34 L580.0 325.28 L581.0 324.21 L582.0 323.14 L583.0 322.06 L584.0 320.98 L585.0 319.89 L586.0 318.79 L587.0 317.69 L588.0 316.59 L589.0 315.47 L590.0 314.36 L591.0 313.23 L592.0 312.10 L593.0 310.96 L594.0 309.81 L595.0 308.65 L596.0 307.48 L597.0 306.30 L598.0 305.12 L599.0 303.93 L600.0 302.74 L601.0 301.55 L602.0 300.36 L603.0 299.17 L604.0 297.99 L605.0 296.81 L606.0 295.65 L607.0 294.49 L608.0 293.35 L609.0 292.21 L610.0 291.09 L611.0 289.97 L612.0 288.87 L613.0 287.76 L614.0 286.66 L615.0 285.56 L616.0 284.46 L617.0 283.35 L618.0 282.24 L619.0 281.11 L620.0 279.97 L621.0 278.82 L622.0 277.65 L623.0 276.46 L624.0 275.25 L625.0 274.02 L626.0 272.77 L627.0 271.49 L628.0 270.19 L629.0 268.85 L630.0 267.49 L631.0 266.09 L632.0 264.66 L633.0 263.19 L634.0 261.68 L635.0 260.14 L636.0 258.55 L637.0 256.91 L638.0 255.22 L639.0 253.49 L640.0 251.70 L641.0 249.87 L642.0 247.98 L643.0 246.04 L644.0 244.05 L645.0 242.02 L646.0 239.95 L647.0 237.83 L648.0 235.69 L649.0 233.52 L650.0 231.33 L651.0 229.13 L652.0 226.93 L653.0 224.73 L654.0 222.56 L655.0 220.40 L656.0 218.28 L657.0 216.20 L658.0 214.15 L659.0 212.15 L660.0 210.20 L661.0 208.29 L662.0 206.43 L663.0 204.61 L664.0 202.83 L665.0 201.09 L666.0 199.37 L667.0 197.69 L668.0 196.03 L669.0 194.39 L670.0 192.78 L671.0 191.19 L672.0 189.62 L673.0 188.07 L674.0 186.55 L675.0 185.05 L676.0 183.58 L677.0 182.13 L678.0 180.71 L679.0 179.32 L680.0 177.95 L681.0 176.62 L682.0 175.31 L683.0 174.03 L684.0 172.78 L685.0 171.56 L686.0 170.37 L687.0 169.20 L688.0 168.05 L689.0 166.94 L690.0 165.84 L691.0 164.77 L692.0 163.72 L693.0 162.70 L694.0 161.70 L695.0 160.72 L696.0 159.77 L697.0 158.84 L698.0 157.94 L699.0 157.08 L700.0 156.24 L701.0 155.44 L702.0 154.67 L703.0 153.94 L704.0 153.25 L705.0 152.59 L706.0 151.96 L707.0 151.37 L708.0 150.81 L709.0 150.28 L710.0 149.77 L711.0 149.29 L712.0 148.83 L713.0 148.39 L714.0 147.97 L715.0 147.56 L716.0 147.16 L717.0 146.78 L718.0 146.40 L719.0 146.04 L720.0 145.69 L721.0 145.35 L722.0 145.02 L723.0 144.69 L724.0 144.38 L725.0 144.07 L726.0 143.77 L727.0 143.48 L728.0 143.19 L729.0 142.91 L730.0 142.64 L731.0 142.37 L732.0 142.11 L733.0 141.85 L734.0 141.60 L735.0 141.35 L736.0 141.11 L737.0 140.88 L738.0 140.65 L739.0 140.42 L740.0 140.21 L741.0 140.00 L742.0 139.80 L743.0 139.61 L744.0 139.44 L745.0 139.27 L746.0 139.12 L747.0 138.98 L748.0 138.86 L749.0 138.76 L750.0 138.68 L751.0 138.63 L752.0 138.59 L753.0 138.59 L754.0 138.61 L755.0 138.66 L756.0 138.74 L757.0 138.85 L758.0 138.99 L759.0 139.16 L760.0 139.37 L761.0 139.61 L762.0 139.88 L763.0 140.19 L764.0 140.54 L765.0 140.92 L766.0 141.34 L767.0 141.80 L768.0 142.30 L769.0 142.84 L770.0 143.42 L771.0 144.04 L772.0 144.70 L773.0 145.40 L774.0 146.14 L775.0 146.91 L776.0 147.72 L777.0 148.56 L778.0 149.44 L779.0 150.34 L780.0 151.27 L781.0 152.24 L782.0 153.22 L783.0 154.24 L784.0 155.28 L785.0 156.34 L786.0 157.41 L787.0 158.51 L788.0 159.61 L789.0 160.73 L790.0 161.84 L791.0 162.96 L792.0 164.07 L793.0 165.17 L794.0 166.26 L795.0 167.32 L796.0 168.37 L797.0 169.38 L798.0 170.37 L799.0 171.33 L800.0 172.26 L801.0 173.15 L802.0 174.02 L803.0 174.85 L804.0 175.65 L805.0 176.43 L806.0 177.18 L807.0 177.91 L808.0 178.61 L809.0 179.29 L810.0 179.96 L811.0 180.60 L812.0 181.22 L813.0 181.83 L814.0 182.42 L815.0 182.98 L816.0 183.53 L817.0 184.05 L818.0 184.56 L819.0 185.04 L820.0 185.49 L821.0 185.93 L822.0 186.34 L823.0 186.73 L824.0 187.10 L825.0 187.45 L826.0 187.78 L827.0 188.09 L828.0 188.39 L829.0 188.66 L830.0 188.93 L831.0 189.17 L832.0 189.41 L833.0 189.63 L834.0 189.84 L835.0 190.04 L836.0 190.22 L837.0 190.40 L838.0 190.57 L839.0 190.74 L840.0 190.90 L841.0 191.06 L842.0 191.22 L843.0 191.38 L844.0 191.55 L845.0 191.72 L846.0 191.90 L847.0 192.09 L848.0 192.29 L849.0 192.51 L850.0 192.74 L851.0 192.98 L852.0 193.24 L853.0 193.51 L854.0 193.80 L855.0 194.10 L856.0 194.42 L857.0 194.75 L858.0 195.08 L859.0 195.43 L860.0 195.79 L861.0 196.16 L862.0 196.53 L863.0 196.91 L864.0 197.30 L865.0 197.69 L866.0 198.09 L867.0 198.49 L868.0 198.90 L869.0 199.31 L870.0 199.73 L871.0 200.15 L872.0 200.57 L873.0 200.99 L874.0 201.42 L875.0 201.84 L876.0 202.27 L877.0 202.70 L878.0 203.12 L879.0 203.55 L880.0 203.98 L881.0 204.41 L882.0 204.84 L883.0 205.27 L884.0 205.69 L885.0 206.12 L886.0 206.54 L887.0 206.97 L888.0 207.39 L889.0 207.81 L890.0 208.22 L891.0 208.63 L892.0 209.04 L893.0 209.44 L894.0 209.83 L895.0 210.22 L896.0 210.59 L897.0 210.96 L898.0 211.31 L899.0 211.64 L900.0 211.97 L901.0 212.28 L902.0 212.57 L903.0 212.85 L904.0 213.11 L905.0 213.36 L906.0 213.59 L907.0 213.81 L908.0 214.02 L909.0 214.22 L910.0 214.41 L911.0 214.60 L912.0 214.77 L913.0 214.95 L914.0 215.11 L915.0 215.28 L916.0 215.44 L917.0 215.60 L918.0 215.75 L919.0 215.91 L920.0 216.06 L921.0 216.21 L922.0 216.36 L923.0 216.51 L924.0 216.66 L925.0 216.81 L926.0 216.96 L927.0 217.11 L928.0 217.26 L929.0 217.41 L930.0 217.56 L931.0 217.71 L932.0 217.87 L933.0 218.03 L934.0 218.19 L935.0 218.36 L936.0 218.53 L937.0 218.72 L938.0 218.91 L939.0 219.11 L940.0 219.32 L941.0 219.54 L942.0 219.77 L943.0 220.02 L944.0 220.27 L945.0 220.54 L946.0 220.81 L947.0 221.10 L948.0 221.40 L949.0 221.70 L950.0 222.01 L951.0 222.32 L952.0 222.64 L953.0 222.97 L954.0 223.30 L955.0 223.63 L956.0 223.96 L957.0 224.29 L958.0 224.63 L959.0 224.96 L960.0 225.29 L961.0 225.63 L962.0 225.96 L963.0 226.29 L964.0 226.62 L965.0 226.95 L966.0 227.27 L967.0 227.60 L968.0 227.92 L969.0 228.24 L970.0 228.56 L971.0 228.87 L972.0 229.18 L973.0 229.48 L974.0 229.78 L975.0 230.07 L976.0 230.36 L977.0 230.64 L978.0 230.91 L979.0 231.17 L980.0 231.43 L981.0 231.68 L982.0 231.92 L983.0 232.16 L984.0 232.39 L985.0 232.61 L986.0 232.83 L987.0 233.04 L988.0 233.26 L989.0 233.46 L990.0 233.67 L991.0 233.87 L992.0 234.07 L993.0 234.27" stroke="#45adbd" stroke-width="1.3" fill="none"/>
</g>
<path d="M994.5 18V476M513 465.5H1021" stroke="#474c5c" stroke-width="1" fill="none"/>
<text x="997.5" y="26.2" font-family="'Liberation Sans', sans-serif" font-size="5.7" font-weight="bold" fill="#d2d4da" textLength="20.5" lengthAdjust="spacingAndGlyphs">25000.00</text>
<text x="997.5" y="39.6" font-family="'Liberation Sans', sans-serif" font-size="5.7" font-weight="bold" fill="#d2d4da" textLength="20.5" lengthAdjust="spacingAndGlyphs">23000.00</text>
<text x="997.5" y="54.3" font-family="'Liberation Sans', sans-serif" font-size="5.7" font-weight="bold" fill="#d2d4da" textLength="20.5" lengthAdjust="spacingAndGlyphs">21000.00</text>
<text x="997.5" y="70.4" font-family="'Liberation Sans', sans-serif" font-size="5.7" font-weight="bold" fill="#d2d4da" textLength="20.5" lengthAdjust="spacingAndGlyphs">19000.00</text>
<text x="997.5" y="83.7" font-family="'Liberation Sans', sans-serif" font-size="5.7" font-weight="bold" fill="#d2d4da" textLength="20.5" lengthAdjust="spacingAndGlyphs">17500.00</text>
<text x="997.5" y="98.1" font-family="'Liberation Sans', sans-serif" font-size="5.7" font-weight="bold" fill="#d2d4da" textLength="20.5" lengthAdjust="spacingAndGlyphs">16000.00</text>
<text x="997.5" y="110.7" font-family="'Liberation Sans', sans-serif" font-size="5.7" font-weight="bold" fill="#d2d4da" textLength="20.5" lengthAdjust="spacingAndGlyphs">14800.00</text>
<text x="997.5" y="124.3" font-family="'Liberation Sans', sans-serif" font-size="5.7" font-weight="bold" fill="#d2d4da" textLength="20.5" lengthAdjust="spacingAndGlyphs">13600.00</text>
<text x="997.5" y="139.2" font-family="'Liberation Sans', sans-serif" font-size="5.7" font-weight="bold" fill="#d2d4da" textLength="20.5" lengthAdjust="spacingAndGlyphs">12400.00</text>
<text x="997.5" y="155.6" font-family="'Liberation Sans', sans-serif" font-size="5.7" font-weight="bold" fill="#d2d4da" textLength="20.5" lengthAdjust="spacingAndGlyphs">11200.00</text>
<text x="997.5" y="173.9" font-family="'Liberation Sans', sans-serif" font-size="5.7" font-weight="bold" fill="#d2d4da" textLength="20.5" lengthAdjust="spacingAndGlyphs">10000.00</text>
<text x="997.5" y="186.5" font-family="'Liberation Sans', sans-serif" font-size="5.7" font-weight="bold" fill="#d2d4da" textLength="17.6" lengthAdjust="spacingAndGlyphs">9250.00</text>
<text x="997.5" y="200.1" font-family="'Liberation Sans', sans-serif" font-size="5.7" font-weight="bold" fill="#d2d4da" textLength="17.6" lengthAdjust="spacingAndGlyphs">8500.00</text>
<text x="997.5" y="216.0" font-family="'Liberation Sans', sans-serif" font-size="5.7" font-weight="bold" fill="#d2d4da" textLength="17.6" lengthAdjust="spacingAndGlyphs">7700.00</text>
<text x="997.5" y="229.1" font-family="'Liberation Sans', sans-serif" font-size="5.7" font-weight="bold" fill="#d2d4da" textLength="17.6" lengthAdjust="spacingAndGlyphs">7100.00</text>
<text x="997.5" y="259.0" font-family="'Liberation Sans', sans-serif" font-size="5.7" font-weight="bold" fill="#d2d4da" textLength="17.6" lengthAdjust="spacingAndGlyphs">5900.00</text>
<text x="997.5" y="276.2" font-family="'Liberation Sans', sans-serif" font-size="5.7" font-weight="bold" fill="#d2d4da" textLength="17.6" lengthAdjust="spacingAndGlyphs">5300.00</text>
<text x="997.5" y="288.9" font-family="'Liberation Sans', sans-serif" font-size="5.7" font-weight="bold" fill="#d2d4da" textLength="17.6" lengthAdjust="spacingAndGlyphs">4900.00</text>
<text x="997.5" y="302.6" font-family="'Liberation Sans', sans-serif" font-size="5.7" font-weight="bold" fill="#d2d4da" textLength="17.6" lengthAdjust="spacingAndGlyphs">4500.00</text>
<text x="997.5" y="317.6" font-family="'Liberation Sans', sans-serif" font-size="5.7" font-weight="bold" fill="#d2d4da" textLength="17.6" lengthAdjust="spacingAndGlyphs">4100.00</text>
<text x="997.5" y="334.2" font-family="'Liberation Sans', sans-serif" font-size="5.7" font-weight="bold" fill="#d2d4da" textLength="17.6" lengthAdjust="spacingAndGlyphs">3700.00</text>
<text x="997.5" y="347.8" font-family="'Liberation Sans', sans-serif" font-size="5.7" font-weight="bold" fill="#d2d4da" textLength="17.6" lengthAdjust="spacingAndGlyphs">3400.00</text>
<text x="997.5" y="362.7" font-family="'Liberation Sans', sans-serif" font-size="5.7" font-weight="bold" fill="#d2d4da" textLength="17.6" lengthAdjust="spacingAndGlyphs">3100.00</text>
<text x="997.5" y="376.2" font-family="'Liberation Sans', sans-serif" font-size="5.7" font-weight="bold" fill="#d2d4da" textLength="17.6" lengthAdjust="spacingAndGlyphs">2850.00</text>
<text x="997.5" y="390.4" font-family="'Liberation Sans', sans-serif" font-size="5.7" font-weight="bold" fill="#d2d4da" textLength="17.6" lengthAdjust="spacingAndGlyphs">2610.00</text>
<text x="997.5" y="403.3" font-family="'Liberation Sans', sans-serif" font-size="5.7" font-weight="bold" fill="#d2d4da" textLength="17.6" lengthAdjust="spacingAndGlyphs">2410.00</text>
<text x="997.5" y="417.2" font-family="'Liberation Sans', sans-serif" font-size="5.7" font-weight="bold" fill="#d2d4da" textLength="17.6" lengthAdjust="spacingAndGlyphs">2210.00</text>
<text x="997.5" y="430.9" font-family="'Liberation Sans', sans-serif" font-size="5.7" font-weight="bold" fill="#d2d4da" textLength="17.6" lengthAdjust="spacingAndGlyphs">2030.00</text>
<text x="997.5" y="444.2" font-family="'Liberation Sans', sans-serif" font-size="5.7" font-weight="bold" fill="#d2d4da" textLength="17.6" lengthAdjust="spacingAndGlyphs">1870.00</text>
<text x="997.5" y="456.7" font-family="'Liberation Sans', sans-serif" font-size="5.7" font-weight="bold" fill="#d2d4da" textLength="17.6" lengthAdjust="spacingAndGlyphs">1730.00</text>
<rect x="994.5" y="236.8" width="24" height="7.4" fill="#66d49f"/>
<text x="997.5" y="242.5" font-family="'Liberation Sans', sans-serif" font-size="5.7" font-weight="bold" fill="#f0fff4" textLength="20.5" lengthAdjust="spacingAndGlyphs">6520.79</text>
<text x="516.58" y="473.2" font-family="'Liberation Sans', sans-serif" font-size="5.6" font-weight="bold" fill="#e4e6ec" textLength="8.83" lengthAdjust="spacingAndGlyphs">Sep</text>
<text x="554.59" y="473.2" font-family="'Liberation Sans', sans-serif" font-size="5.6" font-weight="bold" fill="#e4e6ec" textLength="8.03" lengthAdjust="spacingAndGlyphs">Oct</text>
<text x="592.65" y="473.2" font-family="'Liberation Sans', sans-serif" font-size="5.6" font-weight="bold" fill="#e4e6ec" textLength="9.10" lengthAdjust="spacingAndGlyphs">Nov</text>
<text x="630.28" y="473.2" font-family="'Liberation Sans', sans-serif" font-size="5.6" font-weight="bold" fill="#e4e6ec" textLength="8.83" lengthAdjust="spacingAndGlyphs">Dec</text>
<text x="667.94" y="473.2" font-family="'Liberation Sans', sans-serif" font-size="5.6" font-weight="bold" fill="#e4e6ec" textLength="10.71" lengthAdjust="spacingAndGlyphs">2018</text>
<text x="707.52" y="473.2" font-family="'Liberation Sans', sans-serif" font-size="5.6" font-weight="bold" fill="#e4e6ec" textLength="8.56" lengthAdjust="spacingAndGlyphs">Feb</text>
<text x="742.42" y="473.2" font-family="'Liberation Sans', sans-serif" font-size="5.6" font-weight="bold" fill="#e4e6ec" textLength="8.56" lengthAdjust="spacingAndGlyphs">Mar</text>
<text x="781.60" y="473.2" font-family="'Liberation Sans', sans-serif" font-size="5.6" font-weight="bold" fill="#e4e6ec" textLength="8.29" lengthAdjust="spacingAndGlyphs">Apr</text>
<text x="818.12" y="473.2" font-family="'Liberation Sans', sans-serif" font-size="5.6" font-weight="bold" fill="#e4e6ec" textLength="9.37" lengthAdjust="spacingAndGlyphs">May</text>
<text x="857.12" y="473.2" font-family="'Liberation Sans', sans-serif" font-size="5.6" font-weight="bold" fill="#e4e6ec" textLength="8.56" lengthAdjust="spacingAndGlyphs">Jun</text>
<text x="895.72" y="473.2" font-family="'Liberation Sans', sans-serif" font-size="5.6" font-weight="bold" fill="#e4e6ec" textLength="6.96" lengthAdjust="spacingAndGlyphs">Jul</text>
<text x="933.22" y="473.2" font-family="'Liberation Sans', sans-serif" font-size="5.6" font-weight="bold" fill="#e4e6ec" textLength="9.36" lengthAdjust="spacingAndGlyphs">Aug</text>
<text x="971.58" y="473.2" font-family="'Liberation Sans', sans-serif" font-size="5.6" font-weight="bold" fill="#e4e6ec" textLength="8.83" lengthAdjust="spacingAndGlyphs">Sep</text>
<text x="516.3" y="27.4" font-family="'Liberation Sans', sans-serif" font-size="5.6" fill="#d0d2d8" font-weight="bold" textLength="85.5" lengthAdjust="spacingAndGlyphs">Bitcoin / U.S. Dollar, 1D, BITSTAMP</text>
<text x="516.3" y="34.3" font-family="'Liberation Sans', sans-serif" font-size="5.6" font-weight="bold" fill="#c4c6cc" textLength="35.7" lengthAdjust="spacingAndGlyphs">MA (100, close)</text>
<text x="516.3" y="41.1" font-family="'Liberation Sans', sans-serif" font-size="5.6" font-weight="bold" fill="#c4c6cc" textLength="35.7" lengthAdjust="spacingAndGlyphs">MA (200, close)</text>
<text x="263.4" y="94" font-family="'Liberation Sans', sans-serif" font-size="17.5" font-weight="bold" fill="#f5a623" textLength="36.6" lengthAdjust="spacingAndGlyphs">2019</text>
<text x="885" y="91" font-family="'Liberation Sans', sans-serif" font-size="17.5" font-weight="bold" fill="#f5a623" textLength="37" lengthAdjust="spacingAndGlyphs">2018</text>
<path d="M415.8 138.3L419.6 184.0L423 138.3z" fill="#fff"/>
<rect x="372.8" y="122.4" width="93.59999999999997" height="16.900000000000006" rx="3" fill="#fff"/>
<text x="377.4" y="133.6" font-family="'Liberation Sans', sans-serif" font-size="9.6" font-weight="bold" fill="#262626" textLength="84.4" lengthAdjust="spacingAndGlyphs">Long-term bear cross</text>
<path d="M801.5 130.4L806.2 173.8L809.5 130.4z" fill="#fff"/>
<rect x="758.8" y="114.6" width="93.10000000000002" height="16.80000000000001" rx="3" fill="#fff"/>
<text x="762.9" y="126.3" font-family="'Liberation Sans', sans-serif" font-size="9.6" font-weight="bold" fill="#262626" textLength="84.4" lengthAdjust="spacingAndGlyphs">Long-term bear cross</text>
<text x="2.40" y="7.0" font-family="'Liberation Sans', sans-serif" font-size="5.4" fill="#6ab8d6" textLength="24.00" lengthAdjust="spacingAndGlyphs">coindesk_</text>
<text x="28.30" y="7.0" font-family="'Liberation Sans', sans-serif" font-size="5.4" fill="#3c3c3c" textLength="153.00" lengthAdjust="spacingAndGlyphs">published on TradingView.com, November 19, 2019 02:46:23 UTC</text>
<text x="2.90" y="14.0" font-family="'Liberation Sans', sans-serif" font-size="5.9" fill="#1e1e1e" font-weight="bold" textLength="45.80" lengthAdjust="spacingAndGlyphs">BITSTAMP:BTCUSD,</text>
<text x="51.60" y="14.0" font-family="'Liberation Sans', sans-serif" font-size="5.9" fill="#1e1e1e" font-weight="bold" textLength="6.40" lengthAdjust="spacingAndGlyphs">1D</text>
<text x="59.80" y="14.0" font-family="'Liberation Sans', sans-serif" font-size="5.9" fill="#555" textLength="19.30" lengthAdjust="spacingAndGlyphs">8179.33</text>
<path d="M80.30 14H85.00L82.65 9.6z" fill="#3aa655"/>
<text x="86.20" y="14.0" font-family="'Liberation Sans', sans-serif" font-size="5.9" fill="#555" textLength="12.80" lengthAdjust="spacingAndGlyphs">+8.68</text>
<text x="100.80" y="14.0" font-family="'Liberation Sans', sans-serif" font-size="5.9" fill="#555" textLength="19.80" lengthAdjust="spacingAndGlyphs">(+0.11%)</text>
<text x="122.30" y="14.0" font-family="'Liberation Sans', sans-serif" font-size="5.9" fill="#1e1e1e" font-weight="bold" textLength="5.90" lengthAdjust="spacingAndGlyphs">O:</text>
<text x="128.20" y="14.0" font-family="'Liberation Sans', sans-serif" font-size="5.9" fill="#78c487" textLength="19.90" lengthAdjust="spacingAndGlyphs">8176.90</text>
<text x="149.90" y="14.0" font-family="'Liberation Sans', sans-serif" font-size="5.9" fill="#1e1e1e" font-weight="bold" textLength="5.20" lengthAdjust="spacingAndGlyphs">H:</text>
<text x="155.10" y="14.0" font-family="'Liberation Sans', sans-serif" font-size="5.9" fill="#78c487" textLength="19.40" lengthAdjust="spacingAndGlyphs">8197.77</text>
<text x="176.20" y="14.0" font-family="'Liberation Sans', sans-serif" font-size="5.9" fill="#1e1e1e" font-weight="bold" textLength="4.10" lengthAdjust="spacingAndGlyphs">L:</text>
<text x="180.30" y="14.0" font-family="'Liberation Sans', sans-serif" font-size="5.9" fill="#78c487" textLength="18.20" lengthAdjust="spacingAndGlyphs">8156.14</text>
<text x="200.90" y="14.0" font-family="'Liberation Sans', sans-serif" font-size="5.9" fill="#1e1e1e" font-weight="bold" textLength="4.60" lengthAdjust="spacingAndGlyphs">C:</text>
<text x="205.50" y="14.0" font-family="'Liberation Sans', sans-serif" font-size="5.9" fill="#78c487" textLength="18.80" lengthAdjust="spacingAndGlyphs">8179.33</text>
<text x="513.40" y="14.0" font-family="'Liberation Sans', sans-serif" font-size="5.9" fill="#1e1e1e" font-weight="bold" textLength="45.80" lengthAdjust="spacingAndGlyphs">BITSTAMP:BTCUSD,</text>
<text x="562.10" y="14.0" font-family="'Liberation Sans', sans-serif" font-size="5.9" fill="#1e1e1e" font-weight="bold" textLength="6.40" lengthAdjust="spacingAndGlyphs">1D</text>
<text x="570.30" y="14.0" font-family="'Liberation Sans', sans-serif" font-size="5.9" fill="#555" textLength="19.30" lengthAdjust="spacingAndGlyphs">8179.33</text>
<path d="M590.80 14H595.50L593.15 9.6z" fill="#3aa655"/>
<text x="596.70" y="14.0" font-family="'Liberation Sans', sans-serif" font-size="5.9" fill="#555" textLength="12.80" lengthAdjust="spacingAndGlyphs">+8.68</text>
<text x="611.30" y="14.0" font-family="'Liberation Sans', sans-serif" font-size="5.9" fill="#555" textLength="19.80" lengthAdjust="spacingAndGlyphs">(+0.11%)</text>
<text x="632.80" y="14.0" font-family="'Liberation Sans', sans-serif" font-size="5.9" fill="#1e1e1e" font-weight="bold" textLength="5.90" lengthAdjust="spacingAndGlyphs">O:</text>
<text x="638.70" y="14.0" font-family="'Liberation Sans', sans-serif" font-size="5.9" fill="#78c487" textLength="19.90" lengthAdjust="spacingAndGlyphs">8176.90</text>
<text x="660.40" y="14.0" font-family="'Liberation Sans', sans-serif" font-size="5.9" fill="#1e1e1e" font-weight="bold" textLength="5.20" lengthAdjust="spacingAndGlyphs">H:</text>
<text x="665.60" y="14.0" font-family="'Liberation Sans', sans-serif" font-size="5.9" fill="#78c487" textLength="19.40" lengthAdjust="spacingAndGlyphs">8197.77</text>
<text x="686.70" y="14.0" font-family="'Liberation Sans', sans-serif" font-size="5.9" fill="#1e1e1e" font-weight="bold" textLength="4.10" lengthAdjust="spacingAndGlyphs">L:</text>
<text x="690.80" y="14.0" font-family="'Liberation Sans', sans-serif" font-size="5.9" fill="#78c487" textLength="18.20" lengthAdjust="spacingAndGlyphs">8156.14</text>
<text x="711.40" y="14.0" font-family="'Liberation Sans', sans-serif" font-size="5.9" fill="#1e1e1e" font-weight="bold" textLength="4.60" lengthAdjust="spacingAndGlyphs">C:</text>
<text x="716.00" y="14.0" font-family="'Liberation Sans', sans-serif" font-size="5.9" fill="#78c487" textLength="18.80" lengthAdjust="spacingAndGlyphs">8179.33</text>
<text x="2.6" y="487" font-family="'Liberation Sans', sans-serif" font-size="5.8" fill="#242424" textLength="29.9" lengthAdjust="spacingAndGlyphs">Created with</text>
<g transform="translate(34,481.4)"><path d="M0.3 6 Q-0.3 3.2 2.4 2.8 Q3.4 0 6 0.2 Q8.6 0.6 8.8 3.4 Q9.6 4.6 8.8 6 Z" fill="#4aa9d9"/><path d="M2.6 4.6 L4.4 3.2 L5.6 4 L7.2 2.6" stroke="#bfe6f7" stroke-width="0.9" fill="none"/></g>
<text x="44.8" y="487" font-family="'Liberation Sans', sans-serif" font-size="5.7" fill="#86c3de" textLength="28.1" lengthAdjust="spacingAndGlyphs">TradingView</text>
</g></svg>
</body></html>
